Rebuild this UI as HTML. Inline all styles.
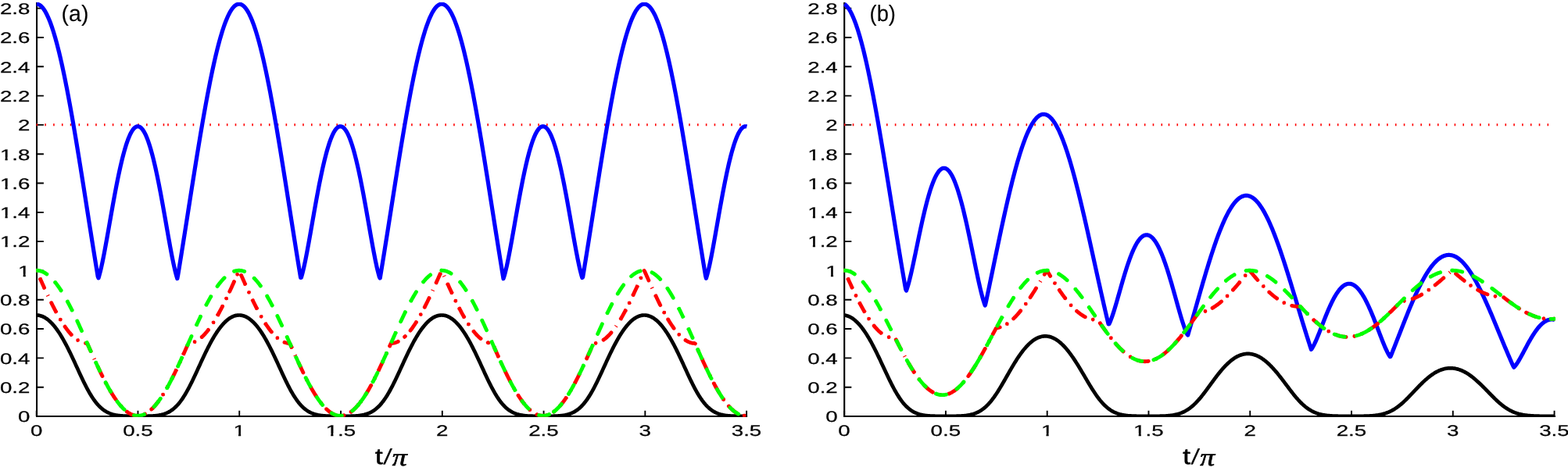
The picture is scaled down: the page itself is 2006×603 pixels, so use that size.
<!DOCTYPE html>
<html lang="en">
<head>
<meta charset="utf-8">
<title>Figure</title>
<style>
html,body{margin:0;padding:0;background:#fff;}
body{width:2006px;height:603px;overflow:hidden;}
svg{display:block;}
text{text-rendering:geometricPrecision;}
.tk{font-family:"Liberation Sans",sans-serif;font-size:19.7px;fill:#000;stroke:#000;stroke-width:0.25px;}
.lab{font-family:"Liberation Sans",sans-serif;font-size:28.9px;fill:#000;stroke:#000;stroke-width:0.12px;}
.xl{font-family:"Liberation Sans",sans-serif;font-size:28.6px;fill:#000;stroke:#000;stroke-width:0.6px;stroke-linejoin:round;}
.sl{font-family:"Liberation Sans",sans-serif;font-size:27.3px;fill:#000;stroke:#000;stroke-width:0.6px;}
.pi{font-family:"Liberation Serif","DejaVu Serif",serif;font-style:italic;font-size:32px;fill:#000;stroke:#000;stroke-width:0.6px;}
.c{fill:none;stroke-linejoin:round;stroke-linecap:butt;}
.r{fill:none;stroke-linejoin:round;stroke-linecap:round;}
</style>
</head>
<body>
<svg width="2006" height="603" viewBox="0 0 2006 603" role="img" aria-label="Two-panel line plot versus t/π">
<rect x="0" y="0" width="2006" height="603" fill="#fff"/>
<defs>
<clipPath id="cp0"><rect x="46.15" y="2.90" width="909.95" height="530.90"/></clipPath>
<clipPath id="cp1"><rect x="1079.30" y="2.90" width="910.70" height="530.90"/></clipPath>
<clipPath id="k1e"><path clip-rule="evenodd" d="M-15.95,-30H60V12H-15.95Z M-12.45,-3.35H-6.26V4H-12.45Z M-4.02,-3.35H0.00V4H-4.02Z"/></clipPath>
<clipPath id="k1xe"><path clip-rule="evenodd" d="M-32.38,-30H60V12H-32.38Z M-28.88,-3.35H-22.69V4H-28.88Z M-20.45,-3.35H-16.43V4H-20.45Z"/></clipPath>
<clipPath id="k1m"><path clip-rule="evenodd" d="M-10.48,-30H60V12H-10.48Z M-6.98,-3.35H-0.79V4H-6.98Z M1.46,-3.35H5.48V4H1.46Z"/></clipPath>
<clipPath id="k1xm"><path clip-rule="evenodd" d="M-18.69,-30H60V12H-18.69Z M-15.19,-3.35H-9.00V4H-15.19Z M-6.76,-3.35H-2.74V4H-6.76Z"/></clipPath>
</defs>
<g id="panel0">
<g stroke="#000" fill="none" stroke-linecap="butt">
<path stroke-width="2.1" d="M47.05,2.90V533.90"/>
<path stroke-width="1.9" d="M46.00,532.95H956.10"/>
</g>
<g stroke="#000" stroke-width="1.9" fill="none">
<path d="M46.70,533.00 h9.2 M46.70,495.69 h9.2 M46.70,458.38 h9.2 M46.70,421.07 h9.2 M46.70,383.76 h9.2 M46.70,346.45 h9.2 M46.70,309.14 h9.2 M46.70,271.83 h9.2 M46.70,234.52 h9.2 M46.70,197.21 h9.2 M46.70,159.90 h9.2 M46.70,122.59 h9.2 M46.70,85.28 h9.2 M46.70,47.97 h9.2 M46.70,10.66 h9.2 M46.70,532.80 v-7 M176.47,532.80 v-7 M306.24,532.80 v-7 M436.01,532.80 v-7 M565.79,532.80 v-7 M695.56,532.80 v-7 M825.33,532.80 v-7 M955.10,532.80 v-7"/>
</g>
<g class="tk">
<text text-anchor="end" transform="translate(38.45,540.30) scale(1.406,1)">0</text>
<text text-anchor="end" transform="translate(38.45,502.99) scale(1.406,1)">0.2</text>
<text text-anchor="end" transform="translate(38.45,465.68) scale(1.406,1)">0.4</text>
<text text-anchor="end" transform="translate(38.45,428.37) scale(1.406,1)">0.6</text>
<text text-anchor="end" transform="translate(38.45,391.06) scale(1.406,1)">0.8</text>
<text text-anchor="end" clip-path="url(#k1e)" transform="translate(38.45,353.75) scale(1.406,1)">1</text>
<text text-anchor="end" clip-path="url(#k1xe)" transform="translate(38.45,316.44) scale(1.406,1)">1.2</text>
<text text-anchor="end" clip-path="url(#k1xe)" transform="translate(38.45,279.13) scale(1.406,1)">1.4</text>
<text text-anchor="end" clip-path="url(#k1xe)" transform="translate(38.45,241.82) scale(1.406,1)">1.6</text>
<text text-anchor="end" clip-path="url(#k1xe)" transform="translate(38.45,204.51) scale(1.406,1)">1.8</text>
<text text-anchor="end" transform="translate(38.45,167.20) scale(1.406,1)">2</text>
<text text-anchor="end" transform="translate(38.45,129.89) scale(1.406,1)">2.2</text>
<text text-anchor="end" transform="translate(38.45,92.58) scale(1.406,1)">2.4</text>
<text text-anchor="end" transform="translate(38.45,55.27) scale(1.406,1)">2.6</text>
<text text-anchor="end" transform="translate(38.45,17.96) scale(1.406,1)">2.8</text>
<text text-anchor="middle" transform="translate(46.60,558.00) scale(1.406,1)">0</text>
<text text-anchor="middle" transform="translate(176.37,558.00) scale(1.406,1)">0.5</text>
<text text-anchor="middle" clip-path="url(#k1m)" transform="translate(306.14,558.00) scale(1.406,1)">1</text>
<text text-anchor="middle" clip-path="url(#k1xm)" transform="translate(435.91,558.00) scale(1.406,1)">1.5</text>
<text text-anchor="middle" transform="translate(565.69,558.00) scale(1.406,1)">2</text>
<text text-anchor="middle" transform="translate(695.46,558.00) scale(1.406,1)">2.5</text>
<text text-anchor="middle" transform="translate(825.23,558.00) scale(1.406,1)">3</text>
<text text-anchor="middle" transform="translate(955.00,558.00) scale(1.406,1)">3.5</text>
</g>
<g clip-path="url(#cp0)">
<path d="M46.5,159.7h1.6M57.31,159.7h1.6M68.12,159.7h1.6M78.93,159.7h1.6M89.74,159.7h1.6M100.55,159.7h1.6M111.36,159.7h1.6M122.17,159.7h1.6M132.98,159.7h1.6M143.79,159.7h1.6M154.6,159.7h1.6M165.41,159.7h1.6M176.22,159.7h1.6M187.03,159.7h1.6M197.84,159.7h1.6M208.65,159.7h1.6M214.21,159.7h1.6M225.02,159.7h1.6M235.83,159.7h1.6M246.64,159.7h1.6M257.45,159.7h1.6M268.26,159.7h1.6M279.07,159.7h1.6M289.88,159.7h1.6M300.69,159.7h1.6M311.5,159.7h1.6M322.31,159.7h1.6M333.12,159.7h1.6M343.93,159.7h1.6M354.74,159.7h1.6M365.55,159.7h1.6M376.36,159.7h1.6M387.17,159.7h1.6M397.98,159.7h1.6M408.79,159.7h1.6M419.6,159.7h1.6M430.41,159.7h1.6M441.22,159.7h1.6M452.03,159.7h1.6M461.23,159.7h1.6M472.04,159.7h1.6M482.85,159.7h1.6M493.66,159.7h1.6M504.47,159.7h1.6M515.28,159.7h1.6M526.09,159.7h1.6M536.9,159.7h1.6M547.71,159.7h1.6M558.52,159.7h1.6M569.33,159.7h1.6M580.14,159.7h1.6M590.95,159.7h1.6M601.76,159.7h1.6M612.57,159.7h1.6M623.38,159.7h1.6M634.19,159.7h1.6M645,159.7h1.6M655.81,159.7h1.6M666.62,159.7h1.6M677.43,159.7h1.6M688.24,159.7h1.6M699.05,159.7h1.6M708.25,159.7h1.6M719.06,159.7h1.6M729.87,159.7h1.6M740.68,159.7h1.6M751.49,159.7h1.6M762.3,159.7h1.6M773.11,159.7h1.6M783.92,159.7h1.6M794.73,159.7h1.6M805.54,159.7h1.6M816.35,159.7h1.6M827.16,159.7h1.6M837.97,159.7h1.6M848.78,159.7h1.6M859.59,159.7h1.6M870.4,159.7h1.6M881.21,159.7h1.6M892.02,159.7h1.6M902.83,159.7h1.6M913.64,159.7h1.6M924.45,159.7h1.6M935.26,159.7h1.6M946.07,159.7h1.6" stroke="#f00" stroke-width="3.1" fill="none"/>
<path class="c" stroke="#00f" stroke-width="5.2" d="M46.7,5.16L47.53,5.21L48.35,5.37L49.18,5.63L50,6L50.83,6.47L51.66,7.05L52.48,7.74L53.31,8.53L54.14,9.42L54.96,10.42L55.79,11.52L56.61,12.72L57.44,14.02L58.27,15.43L59.09,16.94L59.92,18.55L60.74,20.26L61.57,22.07L62.4,23.98L63.22,25.98L64.05,28.08L64.88,30.28L65.7,32.58L66.53,34.97L67.35,37.45L68.18,40.03L69.01,42.69L69.83,45.45L70.66,48.3L71.48,51.23L72.31,54.26L73.14,57.36L73.96,60.56L74.79,63.83L75.62,67.19L76.44,70.63L77.27,74.15L78.09,77.74L78.92,81.41L79.75,85.16L80.57,88.98L81.4,92.87L82.22,96.84L83.05,100.87L83.88,104.97L84.7,109.13L85.53,113.36L86.36,117.65L87.18,122L88.01,126.41L88.83,130.87L89.66,135.39L90.49,139.97L91.31,144.59L92.14,149.27L92.96,153.99L93.79,158.76L94.62,163.57L95.44,168.43L96.27,173.32L97.1,178.26L97.92,183.22L98.75,188.23L99.57,193.26L100.4,198.33L101.23,203.42L102.05,208.54L102.88,213.68L103.7,218.85L104.53,224.03L105.36,229.24L106.18,234.45L107.01,239.69L107.84,244.93L108.66,250.18L109.49,255.44L110.31,260.71L111.14,265.98L111.97,271.24L112.79,276.51L113.62,281.78L114.44,287.04L115.27,292.29L116.1,297.53L116.92,302.76L117.75,307.97L118.58,313.18L119.4,318.36L120.23,323.52L121.05,328.66L121.88,333.78L122.71,338.86L123.53,343.93L124.36,348.96L125.18,353.96L126.01,355.89L126.84,353.15L127.66,350.15L128.49,346.9L129.32,343.42L130.14,339.75L130.97,335.89L131.79,331.87L132.62,327.72L133.45,323.44L134.27,319.05L135.1,314.57L135.92,310.03L136.75,305.42L137.58,300.77L138.4,296.08L139.23,291.38L140.06,286.67L140.88,281.95L141.71,277.25L142.53,272.57L143.36,267.92L144.19,263.31L145.01,258.74L145.84,254.22L146.66,249.76L147.49,245.37L148.32,241.04L149.14,236.79L149.97,232.63L150.79,228.54L151.62,224.55L152.45,220.66L153.27,216.86L154.1,213.17L154.93,209.58L155.75,206.1L156.58,202.74L157.4,199.49L158.23,196.37L159.06,193.36L159.88,190.48L160.71,187.73L161.53,185.1L162.36,182.61L163.19,180.25L164.01,178.02L164.84,175.94L165.67,173.99L166.49,172.18L167.32,170.51L168.14,168.99L168.97,167.61L169.8,166.37L170.62,165.28L171.45,164.34L172.27,163.55L173.1,162.9L173.93,162.4L174.75,162.05L175.58,161.84L176.41,161.79L177.23,161.88L178.06,162.13L178.88,162.52L179.71,163.06L180.54,163.75L181.36,164.59L182.19,165.58L183.01,166.71L183.84,167.98L184.67,169.4L185.49,170.97L186.32,172.67L187.15,174.52L187.97,176.51L188.8,178.64L189.62,180.9L190.45,183.3L191.28,185.83L192.1,188.49L192.93,191.28L193.75,194.19L194.58,197.23L195.41,200.39L196.23,203.67L197.06,207.07L197.89,210.58L198.71,214.19L199.54,217.92L200.36,221.74L201.19,225.66L202.02,229.68L202.84,233.79L203.67,237.98L204.49,242.25L205.32,246.59L206.15,251.01L206.97,255.48L207.8,260.02L208.63,264.6L209.45,269.22L210.28,273.88L211.1,278.57L211.93,283.28L212.76,287.99L213.58,292.7L214.41,297.4L215.23,302.08L216.06,306.72L216.89,311.31L217.71,315.84L218.54,320.29L219.37,324.65L220.19,328.9L221.02,333.02L221.84,336.99L222.67,340.8L223.5,344.42L224.32,347.83L225.15,351.02L225.97,353.95L226.8,356.61L227.63,352.55L228.45,347.55L229.28,342.51L230.11,337.44L230.93,332.34L231.76,327.22L232.58,322.07L233.41,316.9L234.24,311.72L235.06,306.51L235.89,301.29L236.71,296.06L237.54,290.81L238.37,285.56L239.19,280.3L240.02,275.03L240.85,269.76L241.67,264.5L242.5,259.23L243.32,253.96L244.15,248.71L244.98,243.46L245.8,238.22L246.63,232.99L247.45,227.77L248.28,222.58L249.11,217.4L249.93,212.24L250.76,207.1L251.59,201.99L252.41,196.9L253.24,191.85L254.06,186.82L254.89,181.83L255.72,176.87L256.54,171.94L257.37,167.06L258.19,162.22L259.02,157.42L259.85,152.66L260.67,147.95L261.5,143.29L262.33,138.68L263.15,134.12L263.98,129.61L264.8,125.16L265.63,120.77L266.46,116.44L267.28,112.16L268.11,107.95L268.93,103.81L269.76,99.73L270.59,95.72L271.41,91.77L272.24,87.9L273.07,84.1L273.89,80.37L274.72,76.72L275.54,73.15L276.37,69.65L277.2,66.24L278.02,62.9L278.85,59.65L279.67,56.48L280.5,53.4L281.33,50.4L282.15,47.49L282.98,44.67L283.81,41.94L284.63,39.29L285.46,36.74L286.28,34.29L287.11,31.93L287.94,29.66L288.76,27.48L289.59,25.41L290.41,23.43L291.24,21.55L292.07,19.77L292.89,18.09L293.72,16.51L294.55,15.03L295.37,13.65L296.2,12.37L297.02,11.2L297.85,10.13L298.68,9.16L299.5,8.29L300.33,7.54L301.15,6.88L301.98,6.33L302.81,5.89L303.63,5.55L304.46,5.31L305.29,5.18L306.11,5.16L306.94,5.24L307.76,5.43L308.59,5.72L309.42,6.12L310.24,6.63L311.07,7.24L311.89,7.95L312.72,8.77L313.55,9.69L314.37,10.71L315.2,11.84L316.03,13.07L316.85,14.41L317.68,15.84L318.5,17.38L319.33,19.02L320.16,20.76L320.98,22.59L321.81,24.53L322.63,26.56L323.46,28.69L324.29,30.92L325.11,33.24L325.94,35.66L326.77,38.17L327.59,40.77L328.42,43.46L329.24,46.24L330.07,49.11L330.9,52.07L331.72,55.12L332.55,58.25L333.37,61.47L334.2,64.77L335.03,68.15L335.85,71.61L336.68,75.15L337.51,78.76L338.33,82.46L339.16,86.23L339.98,90.07L340.81,93.98L341.64,97.96L342.46,102.01L343.29,106.13L344.11,110.31L344.94,114.56L345.77,118.86L346.59,123.23L347.42,127.65L348.24,132.14L349.07,136.67L349.9,141.26L350.72,145.9L351.55,150.59L352.38,155.33L353.2,160.11L354.03,164.93L354.85,169.8L355.68,174.7L356.51,179.65L357.33,184.63L358.16,189.64L358.98,194.68L359.81,199.76L360.64,204.86L361.46,209.98L362.29,215.13L363.12,220.3L363.94,225.49L364.77,230.7L365.59,235.92L366.42,241.16L367.25,246.4L368.07,251.66L368.9,256.92L369.72,262.19L370.55,267.46L371.38,272.72L372.2,277.99L373.03,283.25L373.86,288.51L374.68,293.76L375.51,299L376.33,304.23L377.16,309.44L377.99,314.63L378.81,319.81L379.64,324.97L380.46,330.1L381.29,335.21L382.12,340.29L382.94,345.34L383.77,350.36L384.6,355.35L385.42,355.15L386.25,352.34L387.07,349.26L387.9,345.94L388.73,342.41L389.55,338.68L390.38,334.78L391.2,330.72L392.03,326.53L392.86,322.21L393.68,317.8L394.51,313.3L395.34,308.74L396.16,304.12L396.99,299.45L397.81,294.76L398.64,290.06L399.47,285.34L400.29,280.63L401.12,275.94L401.94,271.26L402.77,266.62L403.6,262.02L404.42,257.46L405.25,252.96L406.08,248.52L406.9,244.14L407.73,239.84L408.55,235.61L409.38,231.47L410.21,227.41L411.03,223.45L411.86,219.58L412.68,215.81L413.51,212.15L414.34,208.59L415.16,205.15L415.99,201.82L416.82,198.6L417.64,195.51L418.47,192.54L419.29,189.69L420.12,186.98L420.95,184.39L421.77,181.93L422.6,179.61L423.42,177.42L424.25,175.38L425.08,173.47L425.9,171.7L426.73,170.07L427.56,168.59L428.38,167.25L429.21,166.05L430.03,165L430.86,164.1L431.69,163.35L432.51,162.74L433.34,162.28L434.16,161.97L434.99,161.81L435.82,161.8L436.64,161.94L437.47,162.22L438.3,162.66L439.12,163.24L439.95,163.97L440.77,164.85L441.6,165.88L442.43,167.05L443.25,168.37L444.08,169.83L444.9,171.43L445.73,173.18L446.56,175.07L447.38,177.09L448.21,179.26L449.04,181.56L449.86,183.99L450.69,186.56L451.51,189.26L452.34,192.08L453.17,195.03L453.99,198.11L454.82,201.3L455.64,204.62L456.47,208.04L457.3,211.58L458.12,215.23L458.95,218.98L459.78,222.83L460.6,226.78L461.43,230.83L462.25,234.96L463.08,239.17L463.91,243.46L464.73,247.83L465.56,252.26L466.38,256.75L467.21,261.3L468.04,265.89L468.86,270.53L469.69,275.2L470.52,279.89L471.34,284.6L472.17,289.31L472.99,294.02L473.82,298.72L474.65,303.39L475.47,308.01L476.3,312.59L477.12,317.1L477.95,321.53L478.78,325.85L479.6,330.07L480.43,334.15L481.26,338.08L482.08,341.84L482.91,345.4L483.73,348.75L484.56,351.87L485.39,354.73L486.21,356.13L487.04,351.15L487.86,346.13L488.69,341.09L489.52,336.01L490.34,330.9L491.17,325.78L492,320.62L492.82,315.45L493.65,310.26L494.47,305.05L495.3,299.82L496.13,294.59L496.95,289.34L497.78,284.08L498.6,278.82L499.43,273.55L500.26,268.28L501.08,263.02L501.91,257.75L502.74,252.49L503.56,247.23L504.39,241.98L505.21,236.75L506.04,231.52L506.87,226.31L507.69,221.12L508.52,215.94L509.34,210.79L510.17,205.66L511,200.56L511.82,195.48L512.65,190.43L513.48,185.41L514.3,180.43L515.13,175.48L515.95,170.57L516.78,165.7L517.61,160.86L518.43,156.08L519.26,151.33L520.08,146.64L520.91,141.99L521.74,137.39L522.56,132.85L523.39,128.36L524.22,123.92L525.04,119.55L525.87,115.23L526.69,110.97L527.52,106.78L528.35,102.65L529.17,98.59L530,94.6L530.82,90.68L531.65,86.83L532.48,83.05L533.3,79.34L534.13,75.71L534.95,72.16L535.78,68.69L536.61,65.29L537.43,61.98L538.26,58.75L539.09,55.61L539.91,52.55L540.74,49.57L541.56,46.69L542.39,43.89L543.22,41.18L544.04,38.57L544.87,36.05L545.69,33.61L546.52,31.28L547.35,29.04L548.17,26.89L549,24.84L549.83,22.89L550.65,21.04L551.48,19.29L552.3,17.63L553.13,16.08L553.96,14.63L554.78,13.28L555.61,12.03L556.43,10.89L557.26,9.84L558.09,8.91L558.91,8.07L559.74,7.34L560.57,6.72L561.39,6.2L562.22,5.78L563.04,5.47L563.87,5.27L564.7,5.17L565.52,5.17L566.35,5.29L567.17,5.5L568,5.83L568.83,6.25L569.65,6.79L570.48,7.43L571.31,8.17L572.13,9.02L572.96,9.97L573.78,11.02L574.61,12.18L575.44,13.44L576.26,14.8L577.09,16.27L577.91,17.83L578.74,19.5L579.57,21.26L580.39,23.13L581.22,25.09L582.05,27.15L582.87,29.31L583.7,31.56L584.52,33.91L585.35,36.35L586.18,38.89L587,41.51L587.83,44.23L588.65,47.04L589.48,49.94L590.31,52.92L591.13,55.99L591.96,59.15L592.79,62.39L593.61,65.71L594.44,69.11L595.26,72.59L596.09,76.16L596.92,79.79L597.74,83.51L598.57,87.3L599.39,91.16L600.22,95.09L601.05,99.09L601.87,103.16L602.7,107.3L603.53,111.5L604.35,115.76L605.18,120.08L606,124.47L606.83,128.91L607.66,133.41L608.48,137.96L609.31,142.56L610.13,147.21L610.96,151.92L611.79,156.66L612.61,161.46L613.44,166.3L614.27,171.17L615.09,176.09L615.92,181.04L616.74,186.03L617.57,191.05L618.4,196.1L619.22,201.19L620.05,206.29L620.87,211.43L621.7,216.58L622.53,221.76L623.35,226.95L624.18,232.17L625.01,237.39L625.83,242.63L626.66,247.88L627.48,253.14L628.31,258.4L629.14,263.67L629.96,268.93L630.79,274.2L631.61,279.47L632.44,284.73L633.27,289.99L634.09,295.23L634.92,300.47L635.75,305.69L636.57,310.9L637.4,316.09L638.22,321.26L639.05,326.41L639.88,331.54L640.7,336.64L641.53,341.71L642.35,346.76L643.18,351.77L644.01,356.75L644.83,354.39L645.66,351.5L646.49,348.35L647.31,344.97L648.14,341.38L648.96,337.6L649.79,333.65L650.62,329.56L651.44,325.33L652.27,320.98L653.09,316.55L653.92,312.03L654.75,307.44L655.57,302.81L656.4,298.14L657.23,293.44L658.05,288.73L658.88,284.02L659.7,279.31L660.53,274.62L661.36,269.96L662.18,265.32L663.01,260.73L663.83,256.19L664.66,251.71L665.49,247.28L666.31,242.93L667.14,238.65L667.97,234.44L668.79,230.32L669.62,226.29L670.44,222.35L671.27,218.51L672.1,214.77L672.92,211.14L673.75,207.61L674.57,204.2L675.4,200.9L676.23,197.72L677.05,194.66L677.88,191.73L678.71,188.92L679.53,186.24L680.36,183.68L681.18,181.27L682.01,178.98L682.84,176.84L683.66,174.83L684.49,172.96L685.31,171.23L686.14,169.64L686.97,168.2L687.79,166.9L688.62,165.74L689.45,164.74L690.27,163.88L691.1,163.16L691.92,162.6L692.75,162.18L693.58,161.91L694.4,161.79L695.23,161.82L696.05,162L696.88,162.33L697.71,162.81L698.53,163.43L699.36,164.21L700.19,165.13L701.01,166.19L701.84,167.41L702.66,168.76L703.49,170.26L704.32,171.91L705.14,173.7L705.97,175.62L706.79,177.69L707.62,179.89L708.45,182.23L709.27,184.7L710.1,187.3L710.93,190.04L711.75,192.9L712.58,195.88L713.4,198.99L714.23,202.22L715.06,205.57L715.88,209.03L716.71,212.6L717.53,216.27L718.36,220.05L719.19,223.93L720.01,227.91L720.84,231.98L721.67,236.13L722.49,240.37L723.32,244.68L724.14,249.06L724.97,253.51L725.8,258.02L726.62,262.59L727.45,267.19L728.27,271.84L729.1,276.51L729.93,281.21L730.75,285.92L731.58,290.64L732.4,295.34L733.23,300.03L734.06,304.69L734.88,309.3L735.71,313.86L736.54,318.35L737.36,322.75L738.19,327.05L739.01,331.23L739.84,335.27L740.67,339.15L741.49,342.86L742.32,346.36L743.14,349.65L743.97,352.7L744.8,355.48L745.62,354.74L746.45,349.75L747.28,344.72L748.1,339.66L748.93,334.58L749.75,329.47L750.58,324.33L751.41,319.17L752.23,313.99L753.06,308.79L753.88,303.58L754.71,298.35L755.54,293.11L756.36,287.86L757.19,282.6L758.02,277.34L758.84,272.07L759.67,266.8L760.49,261.54L761.32,256.27L762.15,251.01L762.97,245.76L763.8,240.51L764.62,235.28L765.45,230.06L766.28,224.85L767.1,219.66L767.93,214.5L768.76,209.35L769.58,204.23L770.41,199.13L771.23,194.06L772.06,189.02L772.89,184.01L773.71,179.04L774.54,174.1L775.36,169.2L776.19,164.33L777.02,159.51L777.84,154.74L778.67,150.01L779.5,145.33L780.32,140.69L781.15,136.11L781.97,131.58L782.8,127.11L783.63,122.69L784.45,118.33L785.28,114.03L786.1,109.79L786.93,105.62L787.76,101.51L788.58,97.47L789.41,93.49L790.24,89.59L791.06,85.76L791.89,82L792.71,78.31L793.54,74.71L794.37,71.18L795.19,67.73L796.02,64.35L796.84,61.07L797.67,57.86L798.5,54.74L799.32,51.7L800.15,48.75L800.98,45.89L801.8,43.12L802.63,40.44L803.45,37.85L804.28,35.35L805.11,32.95L805.93,30.64L806.76,28.42L807.58,26.31L808.41,24.29L809.24,22.36L810.06,20.54L810.89,18.81L811.72,17.19L812.54,15.66L813.37,14.24L814.19,12.92L815.02,11.7L815.85,10.58L816.67,9.57L817.5,8.66L818.32,7.86L819.15,7.15L819.98,6.56L820.8,6.07L821.63,5.68L822.46,5.4L823.28,5.23L824.11,5.16L824.93,5.19L825.76,5.34L826.59,5.58L827.41,5.94L828.24,6.39L829.06,6.96L829.89,7.62L830.72,8.4L831.54,9.27L832.37,10.25L833.2,11.34L834.02,12.52L834.85,13.81L835.67,15.2L836.5,16.7L837.33,18.29L838.15,19.98L838.98,21.78L839.8,23.67L840.63,25.66L841.46,27.75L842.28,29.93L843.11,32.21L843.94,34.59L844.76,37.05L845.59,39.62L846.41,42.27L847.24,45.01L848.07,47.84L848.89,50.77L849.72,53.77L850.54,56.87L851.37,60.05L852.2,63.31L853.02,66.66L853.85,70.08L854.68,73.59L855.5,77.17L856.33,80.83L857.15,84.57L857.98,88.37L858.81,92.26L859.63,96.21L860.46,100.23L861.28,104.32L862.11,108.47L862.94,112.69L863.76,116.97L864.59,121.31L865.42,125.71L866.24,130.17L867.07,134.68L867.89,139.24L868.72,143.86L869.55,148.53L870.37,153.24L871.2,158.01L872.02,162.81L872.85,167.66L873.68,172.55L874.5,177.48L875.33,182.44L876.16,187.44L876.98,192.47L877.81,197.53L878.63,202.62L879.46,207.73L880.29,212.87L881.11,218.03L881.94,223.22L882.76,228.42L883.59,233.63L884.42,238.86L885.24,244.1L886.07,249.35L886.9,254.61L887.72,259.88L888.55,265.15L889.37,270.41L890.2,275.68L891.03,280.95L891.85,286.21L892.68,291.46L893.5,296.7L894.33,301.94L895.16,307.15L895.98,312.36L896.81,317.54L897.64,322.71L898.46,327.85L899.29,332.97L900.11,338.07L900.94,343.13L901.77,348.17L902.59,353.17L903.42,356.3L904.24,353.6L905.07,350.64L905.9,347.42L906.72,343.98L907.55,340.34L908.38,336.51L909.2,332.52L910.03,328.38L910.85,324.12L911.68,319.75L912.51,315.28L913.33,310.75L914.16,306.15L914.98,301.5L915.81,296.82L916.64,292.12L917.46,287.41L918.29,282.69L919.12,277.99L919.94,273.31L920.77,268.65L921.59,264.03L922.42,259.45L923.25,254.93L924.07,250.46L924.9,246.05L925.72,241.72L926.55,237.46L927.38,233.28L928.2,229.18L929.03,225.18L929.85,221.26L930.68,217.45L931.51,213.74L932.33,210.14L933.16,206.64L933.99,203.26L934.81,200L935.64,196.85L936.46,193.83L937.29,190.92L938.12,188.15L938.94,185.51L939.77,182.99L940.59,180.61L941.42,178.37L942.25,176.26L943.07,174.29L943.9,172.46L944.73,170.77L945.55,169.22L946.38,167.82L947.2,166.56L948.03,165.45L948.86,164.48L949.68,163.66L950.51,162.99L951.33,162.47L952.16,162.09L952.99,161.86L953.81,161.79L954.64,161.86L955.47,162.08"/>
<path class="c" stroke="#000" stroke-width="4.7" d="M46.7,403.49L47.53,403.51L48.35,403.57L49.18,403.66L50,403.79L50.83,403.96L51.66,404.16L52.48,404.41L53.31,404.69L54.14,405L54.96,405.36L55.79,405.75L56.61,406.18L57.44,406.64L58.27,407.14L59.09,407.68L59.92,408.26L60.74,408.87L61.57,409.52L62.4,410.2L63.22,410.93L64.05,411.68L64.88,412.48L65.7,413.31L66.53,414.18L67.35,415.08L68.18,416.01L69.01,416.99L69.83,417.99L70.66,419.04L71.48,420.11L72.31,421.22L73.14,422.37L73.96,423.55L74.79,424.76L75.62,426L76.44,427.28L77.27,428.59L78.09,429.93L78.92,431.3L79.75,432.7L80.57,434.13L81.4,435.58L82.22,437.07L83.05,438.58L83.88,440.12L84.7,441.69L85.53,443.28L86.36,444.89L87.18,446.52L88.01,448.18L88.83,449.86L89.66,451.55L90.49,453.27L91.31,455L92.14,456.74L92.96,458.5L93.79,460.27L94.62,462.05L95.44,463.83L96.27,465.63L97.1,467.43L97.92,469.23L98.75,471.03L99.57,472.83L100.4,474.63L101.23,476.42L102.05,478.21L102.88,479.98L103.7,481.75L104.53,483.5L105.36,485.24L106.18,486.96L107.01,488.66L107.84,490.34L108.66,491.99L109.49,493.62L110.31,495.23L111.14,496.8L111.97,498.35L112.79,499.86L113.62,501.34L114.44,502.79L115.27,504.2L116.1,505.57L116.92,506.91L117.75,508.21L118.58,509.47L119.4,510.69L120.23,511.88L121.05,513.02L121.88,514.12L122.71,515.18L123.53,516.2L124.36,517.18L125.18,518.13L126.01,519.03L126.84,519.89L127.66,520.72L128.49,521.51L129.32,522.26L130.14,522.97L130.97,523.65L131.79,524.3L132.62,524.91L133.45,525.49L134.27,526.03L135.1,526.55L135.92,527.03L136.75,527.49L137.58,527.92L138.4,528.33L139.23,528.7L140.06,529.06L140.88,529.39L141.71,529.69L142.53,529.98L143.36,530.25L144.19,530.49L145.01,530.72L145.84,530.93L146.66,531.12L147.49,531.3L148.32,531.46L149.14,531.61L149.97,531.75L150.79,531.87L151.62,531.99L152.45,532.09L153.27,532.18L154.1,532.26L154.93,532.34L155.75,532.4L156.58,532.46L157.4,532.51L158.23,532.56L159.06,532.6L159.88,532.63L160.71,532.66L161.53,532.69L162.36,532.71L163.19,532.73L164.01,532.74L164.84,532.75L165.67,532.76L166.49,532.77L167.32,532.78L168.14,532.79L168.97,532.79L169.8,532.79L170.62,532.79L171.45,532.8L172.27,532.8L173.1,532.8L173.93,532.8L174.75,532.8L175.58,532.8L176.41,532.8L177.23,532.8L178.06,532.8L178.88,532.8L179.71,532.8L180.54,532.8L181.36,532.8L182.19,532.79L183.01,532.79L183.84,532.79L184.67,532.78L185.49,532.78L186.32,532.77L187.15,532.76L187.97,532.75L188.8,532.74L189.62,532.72L190.45,532.7L191.28,532.68L192.1,532.65L192.93,532.62L193.75,532.59L194.58,532.54L195.41,532.5L196.23,532.44L197.06,532.38L197.89,532.32L198.71,532.24L199.54,532.15L200.36,532.06L201.19,531.96L202.02,531.84L202.84,531.71L203.67,531.57L204.49,531.42L205.32,531.25L206.15,531.07L206.97,530.87L207.8,530.66L208.63,530.42L209.45,530.17L210.28,529.9L211.1,529.61L211.93,529.3L212.76,528.96L213.58,528.6L214.41,528.21L215.23,527.8L216.06,527.37L216.89,526.9L217.71,526.41L218.54,525.88L219.37,525.33L220.19,524.74L221.02,524.12L221.84,523.46L222.67,522.77L223.5,522.05L224.32,521.29L225.15,520.49L225.97,519.65L226.8,518.78L227.63,517.87L228.45,516.91L229.28,515.92L230.11,514.89L230.93,513.81L231.76,512.7L232.58,511.55L233.41,510.36L234.24,509.12L235.06,507.85L235.89,506.54L236.71,505.19L237.54,503.81L238.37,502.39L239.19,500.93L240.02,499.44L240.85,497.92L241.67,496.36L242.5,494.78L243.32,493.17L244.15,491.53L244.98,489.87L245.8,488.18L246.63,486.48L247.45,484.75L248.28,483.01L249.11,481.25L249.93,479.49L250.76,477.71L251.59,475.92L252.41,474.12L253.24,472.32L254.06,470.52L254.89,468.72L255.72,466.92L256.54,465.12L257.37,463.33L258.19,461.55L259.02,459.77L259.85,458L260.67,456.25L261.5,454.51L262.33,452.78L263.15,451.08L263.98,449.39L264.8,447.71L265.63,446.06L266.46,444.43L267.28,442.83L268.11,441.24L268.93,439.69L269.76,438.15L270.59,436.65L271.41,435.17L272.24,433.72L273.07,432.3L273.89,430.91L274.72,429.55L275.54,428.22L276.37,426.92L277.2,425.65L278.02,424.42L278.85,423.21L279.67,422.04L280.5,420.91L281.33,419.81L282.15,418.74L282.98,417.71L283.81,416.71L284.63,415.75L285.46,414.82L286.28,413.93L287.11,413.07L287.94,412.25L288.76,411.47L289.59,410.72L290.41,410.01L291.24,409.33L292.07,408.69L292.89,408.09L293.72,407.53L294.55,407L295.37,406.51L296.2,406.05L297.02,405.63L297.85,405.25L298.68,404.91L299.5,404.6L300.33,404.34L301.15,404.1L301.98,403.91L302.81,403.75L303.63,403.63L304.46,403.55L305.29,403.5L306.11,403.49L306.94,403.52L307.76,403.59L308.59,403.69L309.42,403.84L310.24,404.01L311.07,404.23L311.89,404.48L312.72,404.77L313.55,405.1L314.37,405.46L315.2,405.86L316.03,406.3L316.85,406.78L317.68,407.29L318.5,407.84L319.33,408.43L320.16,409.05L320.98,409.71L321.81,410.4L322.63,411.14L323.46,411.9L324.29,412.71L325.11,413.55L325.94,414.43L326.77,415.34L327.59,416.28L328.42,417.27L329.24,418.28L330.07,419.34L330.9,420.42L331.72,421.54L332.55,422.7L333.37,423.88L334.2,425.11L335.03,426.36L335.85,427.64L336.68,428.96L337.51,430.31L338.33,431.69L339.16,433.09L339.98,434.53L340.81,436L341.64,437.49L342.46,439.01L343.29,440.56L344.11,442.13L344.94,443.73L345.77,445.35L346.59,446.99L347.42,448.65L348.24,450.33L349.07,452.03L349.9,453.75L350.72,455.49L351.55,457.23L352.38,458.99L353.2,460.77L354.03,462.55L354.85,464.34L355.68,466.13L356.51,467.93L357.33,469.73L358.16,471.54L358.98,473.34L359.81,475.13L360.64,476.92L361.46,478.71L362.29,480.48L363.12,482.24L363.94,483.99L364.77,485.72L365.59,487.44L366.42,489.13L367.25,490.8L368.07,492.45L368.9,494.08L369.72,495.67L370.55,497.24L371.38,498.78L372.2,500.28L373.03,501.75L373.86,503.19L374.68,504.59L375.51,505.95L376.33,507.28L377.16,508.57L377.99,509.82L378.81,511.03L379.64,512.2L380.46,513.33L381.29,514.42L382.12,515.47L382.94,516.48L383.77,517.45L384.6,518.38L385.42,519.28L386.25,520.13L387.07,520.94L387.9,521.72L388.73,522.46L389.55,523.17L390.38,523.84L391.2,524.47L392.03,525.07L392.86,525.64L393.68,526.18L394.51,526.69L395.34,527.17L396.16,527.62L396.99,528.04L397.81,528.43L398.64,528.8L399.47,529.15L400.29,529.47L401.12,529.78L401.94,530.06L402.77,530.32L403.6,530.56L404.42,530.78L405.25,530.99L406.08,531.17L406.9,531.35L407.73,531.51L408.55,531.65L409.38,531.79L410.21,531.91L411.03,532.02L411.86,532.11L412.68,532.2L413.51,532.28L414.34,532.35L415.16,532.42L415.99,532.47L416.82,532.52L417.64,532.57L418.47,532.61L419.29,532.64L420.12,532.67L420.95,532.69L421.77,532.71L422.6,532.73L423.42,532.75L424.25,532.76L425.08,532.77L425.9,532.78L426.73,532.78L427.56,532.79L428.38,532.79L429.21,532.79L430.03,532.8L430.86,532.8L431.69,532.8L432.51,532.8L433.34,532.8L434.16,532.8L434.99,532.8L435.82,532.8L436.64,532.8L437.47,532.8L438.3,532.8L439.12,532.8L439.95,532.8L440.77,532.8L441.6,532.79L442.43,532.79L443.25,532.79L444.08,532.78L444.9,532.78L445.73,532.77L446.56,532.76L447.38,532.75L448.21,532.73L449.04,532.72L449.86,532.7L450.69,532.67L451.51,532.64L452.34,532.61L453.17,532.57L453.99,532.53L454.82,532.48L455.64,532.43L456.47,532.37L457.3,532.3L458.12,532.22L458.95,532.13L459.78,532.03L460.6,531.92L461.43,531.81L462.25,531.67L463.08,531.53L463.91,531.37L464.73,531.2L465.56,531.02L466.38,530.81L467.21,530.59L468.04,530.36L468.86,530.1L469.69,529.82L470.52,529.52L471.34,529.2L472.17,528.86L472.99,528.49L473.82,528.1L474.65,527.68L475.47,527.24L476.3,526.76L477.12,526.26L477.95,525.73L478.78,525.16L479.6,524.57L480.43,523.94L481.26,523.27L482.08,522.57L482.91,521.84L483.73,521.07L484.56,520.26L485.39,519.41L486.21,518.53L487.04,517.6L487.86,516.64L488.69,515.63L489.52,514.59L490.34,513.51L491.17,512.38L492,511.22L492.82,510.01L493.65,508.77L494.47,507.49L495.3,506.17L496.13,504.81L496.95,503.41L497.78,501.98L498.6,500.51L499.43,499.01L500.26,497.48L501.08,495.92L501.91,494.33L502.74,492.71L503.56,491.06L504.39,489.4L505.21,487.7L506.04,485.99L506.87,484.26L507.69,482.52L508.52,480.76L509.34,478.99L510.17,477.2L511,475.41L511.82,473.62L512.65,471.82L513.48,470.02L514.3,468.22L515.13,466.42L515.95,464.62L516.78,462.83L517.61,461.05L518.43,459.27L519.26,457.51L520.08,455.76L520.91,454.02L521.74,452.3L522.56,450.6L523.39,448.91L524.22,447.25L525.04,445.6L525.87,443.98L526.69,442.38L527.52,440.8L528.35,439.25L529.17,437.73L530,436.23L530.82,434.76L531.65,433.32L532.48,431.91L533.3,430.52L534.13,429.17L534.95,427.85L535.78,426.56L536.61,425.3L537.43,424.07L538.26,422.88L539.09,421.72L539.91,420.6L540.74,419.5L541.56,418.45L542.39,417.42L543.22,416.44L544.04,415.48L544.87,414.57L545.69,413.68L546.52,412.84L547.35,412.03L548.17,411.25L549,410.52L549.83,409.82L550.65,409.15L551.48,408.52L552.3,407.93L553.13,407.37L553.96,406.86L554.78,406.38L555.61,405.93L556.43,405.52L557.26,405.15L558.09,404.82L558.91,404.53L559.74,404.27L560.57,404.04L561.39,403.86L562.22,403.71L563.04,403.6L563.87,403.53L564.7,403.5L565.52,403.5L566.35,403.54L567.17,403.62L568,403.73L568.83,403.88L569.65,404.07L570.48,404.3L571.31,404.56L572.13,404.86L572.96,405.2L573.78,405.57L574.61,405.98L575.44,406.43L576.26,406.92L577.09,407.44L577.91,408L578.74,408.6L579.57,409.23L580.39,409.9L581.22,410.61L582.05,411.35L582.87,412.13L583.7,412.94L584.52,413.79L585.35,414.68L586.18,415.6L587,416.56L587.83,417.55L588.65,418.58L589.48,419.64L590.31,420.73L591.13,421.86L591.96,423.03L592.79,424.22L593.61,425.45L594.44,426.72L595.26,428.01L596.09,429.34L596.92,430.69L597.74,432.08L598.57,433.5L599.39,434.94L600.22,436.41L601.05,437.92L601.87,439.44L602.7,441L603.53,442.58L604.35,444.18L605.18,445.81L606,447.45L606.83,449.12L607.66,450.81L608.48,452.51L609.31,454.24L610.13,455.98L610.96,457.73L611.79,459.49L612.61,461.27L613.44,463.05L614.27,464.84L615.09,466.64L615.92,468.44L616.74,470.24L617.57,472.04L618.4,473.84L619.22,475.64L620.05,477.43L620.87,479.21L621.7,480.98L622.53,482.74L623.35,484.48L624.18,486.21L625.01,487.91L625.83,489.6L626.66,491.27L627.48,492.91L628.31,494.53L629.14,496.11L629.96,497.67L630.79,499.2L631.61,500.7L632.44,502.16L633.27,503.59L634.09,504.98L634.92,506.33L635.75,507.65L636.57,508.93L637.4,510.16L638.22,511.36L639.05,512.52L639.88,513.64L640.7,514.72L641.53,515.76L642.35,516.76L643.18,517.72L644.01,518.64L644.83,519.52L645.66,520.36L646.49,521.17L647.31,521.93L648.14,522.66L648.96,523.36L649.79,524.02L650.62,524.64L651.44,525.24L652.27,525.8L653.09,526.33L653.92,526.82L654.75,527.29L655.57,527.74L656.4,528.15L657.23,528.54L658.05,528.9L658.88,529.24L659.7,529.56L660.53,529.86L661.36,530.13L662.18,530.39L663.01,530.62L663.83,530.84L664.66,531.04L665.49,531.23L666.31,531.39L667.14,531.55L667.97,531.69L668.79,531.82L669.62,531.94L670.44,532.04L671.27,532.14L672.1,532.23L672.92,532.3L673.75,532.37L674.57,532.44L675.4,532.49L676.23,532.54L677.05,532.58L677.88,532.62L678.71,532.65L679.53,532.68L680.36,532.7L681.18,532.72L682.01,532.74L682.84,532.75L683.66,532.76L684.49,532.77L685.31,532.78L686.14,532.78L686.97,532.79L687.79,532.79L688.62,532.79L689.45,532.8L690.27,532.8L691.1,532.8L691.92,532.8L692.75,532.8L693.58,532.8L694.4,532.8L695.23,532.8L696.05,532.8L696.88,532.8L697.71,532.8L698.53,532.8L699.36,532.8L700.19,532.8L701.01,532.79L701.84,532.79L702.66,532.79L703.49,532.78L704.32,532.77L705.14,532.77L705.97,532.76L706.79,532.74L707.62,532.73L708.45,532.71L709.27,532.69L710.1,532.66L710.93,532.64L711.75,532.6L712.58,532.56L713.4,532.52L714.23,532.47L715.06,532.41L715.88,532.35L716.71,532.27L717.53,532.19L718.36,532.1L719.19,532L720.01,531.89L720.84,531.77L721.67,531.64L722.49,531.49L723.32,531.33L724.14,531.15L724.97,530.96L725.8,530.75L726.62,530.53L727.45,530.29L728.27,530.02L729.1,529.74L729.93,529.44L730.75,529.11L731.58,528.76L732.4,528.39L733.23,527.99L734.06,527.56L734.88,527.11L735.71,526.63L736.54,526.12L737.36,525.57L738.19,525L739.01,524.39L739.84,523.75L740.67,523.08L741.49,522.37L742.32,521.63L743.14,520.84L743.97,520.03L744.8,519.17L745.62,518.27L746.45,517.34L747.28,516.36L748.1,515.35L748.93,514.29L749.75,513.19L750.58,512.06L751.41,510.88L752.23,509.67L753.06,508.41L753.88,507.12L754.71,505.79L755.54,504.42L756.36,503.01L757.19,501.57L758.02,500.1L758.84,498.59L759.67,497.05L760.49,495.48L761.32,493.88L762.15,492.25L762.97,490.6L763.8,488.92L764.62,487.23L765.45,485.51L766.28,483.78L767.1,482.03L767.93,480.26L768.76,478.49L769.58,476.7L770.41,474.91L771.23,473.11L772.06,471.31L772.89,469.51L773.71,467.71L774.54,465.91L775.36,464.12L776.19,462.33L777.02,460.55L777.84,458.78L778.67,457.02L779.5,455.27L780.32,453.54L781.15,451.82L781.97,450.12L782.8,448.44L783.63,446.78L784.45,445.15L785.28,443.53L786.1,441.94L786.93,440.37L787.76,438.82L788.58,437.31L789.41,435.82L790.24,434.35L791.06,432.92L791.89,431.51L792.71,430.14L793.54,428.8L794.37,427.48L795.19,426.2L796.02,424.95L796.84,423.74L797.67,422.55L798.5,421.4L799.32,420.29L800.15,419.2L800.98,418.16L801.8,417.14L802.63,416.17L803.45,415.22L804.28,414.32L805.11,413.44L805.93,412.61L806.76,411.81L807.58,411.04L808.41,410.32L809.24,409.62L810.06,408.97L810.89,408.35L811.72,407.77L812.54,407.23L813.37,406.72L814.19,406.25L815.02,405.81L815.85,405.42L816.67,405.06L817.5,404.73L818.32,404.45L819.15,404.2L819.98,403.99L820.8,403.82L821.63,403.68L822.46,403.58L823.28,403.52L824.11,403.49L824.93,403.51L825.76,403.56L826.59,403.64L827.41,403.77L828.24,403.93L829.06,404.13L829.89,404.37L830.72,404.64L831.54,404.95L832.37,405.3L833.2,405.68L834.02,406.11L834.85,406.57L835.67,407.06L836.5,407.59L837.33,408.16L838.15,408.77L838.98,409.41L839.8,410.09L840.63,410.81L841.46,411.56L842.28,412.35L843.11,413.18L843.94,414.04L844.76,414.93L845.59,415.87L846.41,416.83L847.24,417.83L848.07,418.87L848.89,419.94L849.72,421.05L850.54,422.19L851.37,423.36L852.2,424.57L853.02,425.8L853.85,427.08L854.68,428.38L855.5,429.71L856.33,431.08L857.15,432.47L857.98,433.9L858.81,435.35L859.63,436.83L860.46,438.34L861.28,439.88L862.11,441.44L862.94,443.02L863.76,444.63L864.59,446.27L865.42,447.92L866.24,449.59L867.07,451.29L867.89,453L868.72,454.72L869.55,456.47L870.37,458.22L871.2,459.99L872.02,461.77L872.85,463.55L873.68,465.34L874.5,467.14L875.33,468.94L876.16,470.75L876.98,472.55L877.81,474.35L878.63,476.14L879.46,477.93L880.29,479.7L881.11,481.47L881.94,483.23L882.76,484.97L883.59,486.69L884.42,488.39L885.24,490.07L886.07,491.73L886.9,493.37L887.72,494.98L888.55,496.56L889.37,498.11L890.2,499.62L891.03,501.11L891.85,502.56L892.68,503.98L893.5,505.36L894.33,506.7L895.16,508.01L895.98,509.28L896.81,510.51L897.64,511.69L898.46,512.84L899.29,513.95L900.11,515.02L900.94,516.05L901.77,517.03L902.59,517.98L903.42,518.89L904.24,519.76L905.07,520.59L905.9,521.38L906.72,522.14L907.55,522.86L908.38,523.55L909.2,524.2L910.03,524.81L910.85,525.4L911.68,525.95L912.51,526.47L913.33,526.96L914.16,527.42L914.98,527.86L915.81,528.26L916.64,528.65L917.46,529L918.29,529.34L919.12,529.65L919.94,529.94L920.77,530.2L921.59,530.45L922.42,530.68L923.25,530.9L924.07,531.09L924.9,531.27L925.72,531.44L926.55,531.59L927.38,531.73L928.2,531.86L929.03,531.97L929.85,532.07L930.68,532.17L931.51,532.25L932.33,532.32L933.16,532.39L933.99,532.45L934.81,532.5L935.64,532.55L936.46,532.59L937.29,532.63L938.12,532.66L938.94,532.68L939.77,532.7L940.59,532.72L941.42,532.74L942.25,532.75L943.07,532.76L943.9,532.77L944.73,532.78L945.55,532.78L946.38,532.79L947.2,532.79L948.03,532.79L948.86,532.8L949.68,532.8L950.51,532.8L951.33,532.8L952.16,532.8L952.99,532.8L953.81,532.8L954.64,532.8L955.47,532.8"/>
<path class="c" stroke="#f00" stroke-width="4.8" d="M46.7,346.25L46.7,346.25M46.7,346.25L47.18,347.34M51.07,356.1L51.66,357.42M56.61,368.42L56.97,369.2M60.99,377.89L61.5,378.97M65.67,387.59L65.7,387.66M71.48,398.92L72.26,400.35M76.99,408.68L77.27,409.14M77.27,409.14L77.61,409.71M82.79,417.76L83.05,418.14M91.31,428.51L91.75,428.97M98.99,435.21L99.57,435.6M99.57,435.6L99.99,435.86M108.85,439.31L109.49,439.4M116.1,449.62L116.4,450.3M120.33,459.03L120.82,460.12M124.83,468.82L125.18,469.57M130.97,481.56L131.07,481.76M135.44,490.28L135.92,491.19M135.92,491.19L136,491.34M140.67,499.7L140.88,500.06M148.32,511.7L148.39,511.81M154.28,519.35L154.93,520.08M154.93,520.08L155.08,520.25M162.05,526.79L162.36,527.03M174.75,532.21L175.12,532.24M184.43,530.47L184.67,530.37M185.49,529.97L185.52,529.96M193.32,524.46L193.75,524.06M202.02,514.77L202.81,513.71M208.21,505.79L208.63,505.13M208.63,505.13L208.84,504.78M213.72,496.54L214.41,495.31M214.41,495.31L214.41,495.31M214.41,495.31L214.99,494.26M219.47,485.8L220.19,484.39M225.15,474.31L225.82,472.91M229.87,464.24L230.11,463.73M230.11,463.73L230.37,463.15M234.33,454.43L235.06,452.79M240.02,441.67L240.18,441.31M248.52,437.97L249.11,437.72M249.11,437.72L249.61,437.49M257.52,432.15L258.19,431.55M266.46,422.35L267.11,421.48M272.55,413.6L273.07,412.79M273.07,412.79L273.19,412.59M278.09,404.37L278.85,403.02M284.63,392.14L284.86,391.69M289.1,383.11L289.59,382.09M289.59,382.09L289.62,382.03M293.7,373.36L293.72,373.31M299.5,360.59L299.64,360.29M303.54,351.54L303.63,351.32M303.63,351.32L304.02,350.44M308.26,351.61L308.59,352.37M313.55,363.46L314.12,364.73M318.1,373.44L318.5,374.31M318.5,374.31L318.6,374.53M322.7,383.18L323.46,384.76M328.42,394.65L329.13,396.03M333.71,404.44L334.2,405.3M334.2,405.3L334.3,405.48M339.25,413.67L339.98,414.8M347.42,425.01L347.67,425.31M354.3,432.2L354.85,432.68M354.85,432.68L355.21,432.98M363.32,438L363.94,438.25M373.03,444.57L373.56,445.75M377.46,454.5L377.95,455.59M381.92,464.31L382.12,464.74M387.9,476.99L388.05,477.3M392.32,485.87L392.86,486.91M392.86,486.91L392.87,486.93M397.39,495.38L397.81,496.14M404.42,507.15L404.78,507.69M410.31,515.51L411.03,516.43M411.03,516.43L411.05,516.45M417.46,523.55L417.64,523.73M429.21,531.21L429.43,531.28M438.88,531.96L439.12,531.91M439.95,531.73L440.05,531.7M448.63,527.58L449.04,527.29M458.12,518.6L458.93,517.63M461.43,514.46L461.43,514.46M461.43,514.46L462.14,513.5M467.52,505.58L468.04,504.76M474.65,493.39L474.76,493.17M479.21,484.69L479.6,483.93M479.6,483.93L479.75,483.63M483.98,475.03L484.56,473.83M489.52,463.22L490.07,462.02M494.02,453.3L494.47,452.28M494.47,452.28L494.51,452.2M498.4,443.46L498.6,443M509.34,437.23L509.84,436.97M517.57,431.36L517.61,431.33M518.43,430.55L518.44,430.54M524.82,423.4L525.04,423.12M532.48,412.42L532.99,411.6M537.84,403.35L538.26,402.6M538.26,402.6L538.43,402.3M542.93,393.85L543.22,393.3M549,381.6L549.3,380.97M553.37,372.3L553.87,371.21M557.83,362.5L558.09,361.92M563.04,350.8L563.67,349.37M568.03,352.96L568.52,354.06M572.43,362.8L572.96,363.98M577.91,374.81L578.4,375.86M582.52,384.51L582.87,385.24M582.87,385.24L583.04,385.59M587.34,394.15L587.83,395.1M593.61,405.71L594.22,406.75M599.24,414.91L599.39,415.15M599.39,415.15L599.9,415.91M605.51,423.67L606,424.29M615.09,433.55L615.54,433.9M623.88,438.51L624.18,438.61M625.01,438.85L625.03,438.86M631.83,443.71L632.44,445.09M637.4,456.18L637.69,456.82M641.67,465.54L642.17,466.62M646.26,475.28L646.49,475.76M652.27,487.36L652.67,488.13M657.23,496.56L657.82,497.6M662.74,505.81L663.01,506.23M670.44,516.72L671.08,517.5M677.63,524.47L677.88,524.7M677.88,524.7L678.53,525.26M686.52,530.47L686.97,530.67M700.19,531.44L700.53,531.33M708.45,527.12L708.45,527.12M709.27,526.49L709.4,526.39M716.29,519.76L716.71,519.29M724.14,509.5L724.94,508.31M729.99,500.17L730.59,499.14M735.24,490.76L735.71,489.88M741.49,478.47L741.74,477.96M745.87,469.32L746.38,468.23M750.38,459.53L750.58,459.09M755.54,448.06L756.26,446.43M761.51,439.39L762.15,439.31M762.15,439.31L762.69,439.21M771.47,435.53L772.06,435.14M781.97,425.88L782,425.84M787.82,418.23L788.5,417.25M793.65,409.18L794.37,407.97M800.15,397.61L800.66,396.64M805.01,388.11L805.11,387.92M805.11,387.92L805.54,387.04M809.7,378.41L810.06,377.63M815.02,366.89L815.71,365.36M819.63,356.63L819.98,355.85M819.98,355.85L820.12,355.53M824,346.78L824.11,346.54M829.89,358.98L830.05,359.32M833.98,368.05L834.02,368.14L834.48,369.14M838.51,377.83L838.98,378.83M844.76,390.71L844.78,390.75M849.2,399.25L849.72,400.2M849.72,400.2L849.77,400.3M854.5,408.63L854.68,408.92M862.11,420.28L862.38,420.64M868.43,428.05L868.72,428.37M868.72,428.37L869.25,428.92M876.48,435.18L876.98,435.52M889.37,440.03L889.53,440.39M893.42,449.14L893.5,449.33M893.5,449.33L893.91,450.23M897.84,458.97L898.46,460.34M903.42,471.05L903.87,472M908.04,480.62L908.38,481.3M908.38,481.3L908.57,481.7M912.95,490.22L913.33,490.94M919.94,502.62L920.01,502.72M925.2,510.77L925.72,511.51M925.72,511.51L925.89,511.75M931.78,519.3L932.33,519.93M942.25,528.64L942.49,528.78M951.39,532.11L952.16,532.2M952.16,532.2L952.59,532.23"/>
<path class="r" stroke="#f00" stroke-width="4.8" d="M46.7,346.25h0.01M51.66,357.42L52.48,359.27L53.31,361.11L54.14,362.95L54.96,364.78L55.79,366.61L56.61,368.42M65.7,387.66L66.53,389.32L67.35,390.97L68.18,392.6L69.01,394.2L69.83,395.79L70.66,397.37L71.48,398.92M77.26,409.14h0.01M83.05,418.14L83.88,419.31L84.7,420.45L85.53,421.57L86.36,422.65L87.18,423.71L88.01,424.73L88.83,425.72L89.66,426.68L90.49,427.61L91.31,428.51M99.57,435.6h0.01M109.49,439.4L110.31,439.48L111.14,439.52L111.97,440.33L112.79,442.19L113.62,444.05L114.44,445.91L115.27,447.77L116.1,449.62M125.18,469.57L126.01,471.32L126.84,473.07L127.66,474.79L128.49,476.51L129.32,478.21L130.14,479.89L130.97,481.56M135.92,491.19h0.01M140.88,500.06L141.71,501.46L142.53,502.83L143.36,504.18L144.19,505.5L145.01,506.8L145.84,508.06L146.66,509.3L147.49,510.51L148.32,511.7M154.92,520.08h0.01M162.36,527.03L163.19,527.62L164.01,528.19L164.84,528.72L165.67,529.21L166.49,529.67L167.32,530.09L168.14,530.47L168.97,530.82L169.8,531.13L170.62,531.4L171.45,531.64L172.27,531.84L173.1,532L173.93,532.13L174.75,532.21M184.67,530.37L185.49,529.97M193.75,524.06L194.58,523.28L195.41,522.47L196.23,521.62L197.06,520.73L197.89,519.82L198.71,518.87L199.54,517.89L200.36,516.88L201.19,515.84L202.02,514.77M208.62,505.13h0.01M214.4,495.31h0.01M220.19,484.39L221.02,482.75L221.84,481.09L222.67,479.42L223.5,477.73L224.32,476.03L225.15,474.31M230.1,463.73h0.01M235.06,452.79L235.89,450.95L236.71,449.1L237.54,447.24L238.37,445.39L239.19,443.53L240.02,441.67M249.1,437.72h0.01M258.19,431.55L259.02,430.77L259.85,429.97L260.67,429.13L261.5,428.26L262.33,427.35L263.15,426.42L263.98,425.45L264.8,424.45L265.63,423.42L266.46,422.35M273.06,412.79h0.01M278.85,403.02L279.67,401.53L280.5,400.02L281.33,398.48L282.15,396.93L282.98,395.35L283.81,393.75L284.63,392.14M289.58,382.09h0.01M293.72,373.31L294.55,371.52L295.37,369.72L296.2,367.91L297.02,366.09L297.85,364.27L298.68,362.43L299.5,360.59M303.63,351.32h0.01M308.59,352.37L309.42,354.23L310.24,356.08L311.07,357.94L311.89,359.78L312.72,361.63L313.55,363.46M318.5,374.31h0.01M323.46,384.76L324.29,386.45L325.11,388.13L325.94,389.79L326.77,391.43L327.59,393.05L328.42,394.65M334.2,405.3h0.01M339.98,414.8L340.81,416.05L341.64,417.27L342.46,418.47L343.29,419.63L344.11,420.77L344.94,421.88L345.77,422.95L346.59,424L347.42,425.01M354.85,432.68h0.01M363.94,438.25L364.77,438.54L365.59,438.79L366.42,439L367.25,439.18L368.07,439.32L368.9,439.43L369.72,439.49L370.55,439.52L371.38,440.85L372.2,442.71L373.03,444.57M382.12,464.74L382.94,466.52L383.77,468.3L384.6,470.06L385.42,471.81L386.25,473.55L387.07,475.28L387.9,476.99M392.85,486.91h0.01M397.81,496.14L398.64,497.6L399.47,499.04L400.29,500.46L401.12,501.85L401.94,503.21L402.77,504.55L403.6,505.87L404.42,507.15M411.03,516.43h0.01M417.64,523.73L418.47,524.49L419.29,525.22L420.12,525.91L420.95,526.57L421.77,527.2L422.6,527.79L423.42,528.34L424.25,528.86L425.08,529.34L425.9,529.79L426.73,530.2L427.56,530.57L428.38,530.91L429.21,531.21M439.12,531.91L439.95,531.73M449.04,527.29L449.86,526.67L450.69,526.02L451.51,525.33L452.34,524.61L453.17,523.85L453.99,523.06L454.82,522.23L455.64,521.37L456.47,520.48L457.3,519.56L458.12,518.6M461.42,514.46h0.01M468.04,504.76L468.86,503.43L469.69,502.06L470.52,500.68L471.34,499.27L472.17,497.83L472.99,496.37L473.82,494.89L474.65,493.39M479.6,483.93h0.01M484.56,473.83L485.39,472.09L486.21,470.34L487.04,468.58L487.86,466.8L488.69,465.02L489.52,463.22M494.47,452.28h0.01M498.6,443L499.43,441.14L500.26,439.52L501.08,439.5L501.91,439.44L502.74,439.34L503.56,439.21L504.39,439.04L505.21,438.83L506.04,438.58L506.87,438.3L507.69,437.98L508.52,437.62L509.34,437.23M517.61,431.33L518.43,430.55M525.04,423.12L525.87,422.05L526.69,420.95L527.52,419.81L528.35,418.65L529.17,417.46L530,416.24L530.82,415L531.65,413.72L532.48,412.42M538.25,402.6h0.01M543.22,393.3L544.04,391.68L544.87,390.04L545.69,388.39L546.52,386.72L547.35,385.03L548.17,383.32L549,381.6M558.09,361.92L558.91,360.07L559.74,358.23L560.57,356.38L561.39,354.52L562.22,352.66L563.04,350.8M572.96,363.98L573.78,365.81L574.61,367.63L575.44,369.44L576.26,371.24L577.09,373.03L577.91,374.81M582.87,385.24h0.01M587.83,395.1L588.65,396.68L589.48,398.24L590.31,399.78L591.13,401.29L591.96,402.79L592.79,404.26L593.61,405.71M599.39,415.15h0.01M606,424.29L606.83,425.29L607.66,426.27L608.48,427.21L609.31,428.12L610.13,429L610.96,429.84L611.79,430.65L612.61,431.43L613.44,432.17L614.27,432.88L615.09,433.55M624.18,438.61L625.01,438.85M632.44,445.09L633.27,446.95L634.09,448.81L634.92,450.66L635.75,452.5L636.57,454.35L637.4,456.18M646.49,475.76L647.31,477.47L648.14,479.16L648.96,480.83L649.79,482.49L650.62,484.13L651.44,485.75L652.27,487.36M663.01,506.23L663.83,507.51L664.66,508.76L665.49,509.99L666.31,511.18L667.14,512.35L667.97,513.49L668.79,514.59L669.62,515.67L670.44,516.72M677.87,524.7h0.01M686.97,530.67L687.79,531L688.62,531.29L689.45,531.54L690.27,531.75L691.1,531.93L691.92,532.07L692.75,532.18L693.58,532.25L694.4,532.28L695.23,532.27L696.05,532.22L696.88,532.14L697.71,532.02L698.53,531.87L699.36,531.67L700.19,531.44M708.45,527.12L709.27,526.49M716.71,519.29L717.53,518.33L718.36,517.33L719.19,516.3L720.01,515.24L720.84,514.15L721.67,513.03L722.49,511.88L723.32,510.7L724.14,509.5M735.71,489.88L736.54,488.3L737.36,486.71L738.19,485.1L739.01,483.47L739.84,481.82L740.67,480.16L741.49,478.47M750.58,459.09L751.41,457.27L752.23,455.44L753.06,453.6L753.88,451.76L754.71,449.91L755.54,448.06M762.14,439.31h0.01M772.06,435.14L772.89,434.55L773.71,433.94L774.54,433.28L775.36,432.6L776.19,431.87L777.02,431.12L777.84,430.33L778.67,429.5L779.5,428.65L780.32,427.75L781.15,426.83L781.97,425.88M794.37,407.97L795.19,406.56L796.02,405.13L796.84,403.67L797.67,402.19L798.5,400.68L799.32,399.16L800.15,397.61M805.1,387.92h0.01M810.06,377.63L810.89,375.87L811.72,374.09L812.54,372.31L813.37,370.51L814.19,368.71L815.02,366.89M819.97,355.85h0.01M824.11,346.54L824.93,347.82L825.76,349.69L826.59,351.55L827.41,353.41L828.24,355.27L829.06,357.12L829.89,358.98M838.98,378.83L839.8,380.57L840.63,382.3L841.46,384.01L842.28,385.71L843.11,387.39L843.94,389.06L844.76,390.71M849.71,400.2h0.01M854.68,408.92L855.5,410.29L856.33,411.64L857.15,412.95L857.98,414.24L858.81,415.51L859.63,416.74L860.46,417.95L861.28,419.13L862.11,420.28M868.71,428.37h0.01M876.98,435.52L877.81,436.04L878.63,436.53L879.46,436.98L880.29,437.39L881.11,437.77L881.94,438.11L882.76,438.42L883.59,438.68L884.42,438.92L885.24,439.11L886.07,439.27L886.9,439.39L887.72,439.47L888.55,439.52L889.37,440.03M893.5,449.33h0.01M898.46,460.34L899.29,462.15L900.11,463.95L900.94,465.74L901.77,467.52L902.59,469.29L903.42,471.05M908.37,481.3h0.01M913.33,490.94L914.16,492.48L914.98,494L915.81,495.49L916.64,496.97L917.46,498.41L918.29,499.84L919.12,501.24L919.94,502.62M925.72,511.51h0.01M932.33,519.93L933.16,520.84L933.99,521.72L934.81,522.57L935.64,523.38L936.46,524.16L937.29,524.9L938.12,525.61L938.94,526.29L939.77,526.93L940.59,527.53L941.42,528.1L942.25,528.64M952.16,532.2h0.01"/>
<path class="c" stroke="#0f0" stroke-width="4.8" d="M46.7,346.25L46.7,346.25M59.92,350.98L59.99,351.04M70.27,361.02L70.66,361.5M78.09,371.91L78.6,372.71M85.86,385.11L86.36,386.02M92.14,397.2L92.47,397.86M98.67,410.82L98.75,410.98M104.53,423.63L104.64,423.88M110.49,437L111.14,438.46M116.1,449.62L116.32,450.13M122.24,463.22L122.71,464.23M127.66,474.79L128.35,476.22M134.8,489.06L135.1,489.63M141.71,501.46L141.79,501.6M149.69,513.6L149.97,513.98M159.06,524.28L159.16,524.37M171.4,531.62L171.45,531.64M184.67,530.37L185.35,530.04M196.6,521.23L197.06,520.73M205.32,510.18L205.47,509.95M213.04,497.74L213.58,496.78M213.58,496.78L214.41,495.31M214.41,495.31L214.41,495.31M221.02,482.75L221.09,482.6M227.35,469.66L227.63,469.07M232.58,458.3L233.35,456.61M239.21,443.5L240.02,441.67M244.98,430.5L245.04,430.37M250.93,417.27L251.59,415.84M256.54,405.22L257.01,404.25M263.39,391.38L263.98,390.25M269.76,379.69L270.29,378.78M278.01,366.68L278.02,366.67M287.11,355.71L287.18,355.64M298.94,347.57L299.5,347.36M312.72,347.53L312.97,347.62M324.69,355.76L325.11,356.18M333.37,366.16L333.83,366.81M341.55,378.92L341.64,379.06M348.24,391.14L348.44,391.52M354.82,404.39L354.85,404.46M360.64,416.85L360.89,417.41M366.79,430.51L367.25,431.54M372.2,442.71L372.62,443.64M378.48,456.75L378.81,457.5M383.77,468.3L384.48,469.81M390.74,482.74L391.2,483.67M396.99,494.66L397.43,495.45M404.82,507.76L405.25,508.41M412.68,518.45L413.39,519.27M424.1,528.77L424.25,528.86M437.47,532.17L437.78,532.13M450.6,526.09L450.69,526.02M459.78,516.59L460.48,515.7M461.43,514.46L461.43,514.46M468.86,503.43L469.41,502.52M476.46,490.01L477.12,488.75M482.91,477.26L482.94,477.19M489.07,464.2L489.52,463.22M494.47,452.28L494.99,451.11M500.83,437.99L501.08,437.42M506.04,426.28L506.68,424.86M512.63,411.79L512.65,411.75M518.43,399.61L518.82,398.83M525.39,386.05L525.87,385.17M532.48,373.79L532.58,373.62M540.81,361.86L541.56,360.93M550.65,351.87L550.9,351.68M563.98,346.28L564.7,346.25M577.09,350.18L577.47,350.43M587.94,360.2L588.65,361.06M596.09,371.35L596.38,371.81M603.7,384.16L604.35,385.35M610.13,396.47L610.35,396.9M616.58,409.84L616.74,410.2M622.53,422.83L622.56,422.9M628.41,436.02L629.14,437.65M634.09,448.81L634.25,449.15M640.15,462.24L640.7,463.45M645.66,474.04L646.24,475.25M652.66,488.1L653.09,488.94M658.88,499.44L659.6,500.68M667.41,512.73L667.97,513.49M676.23,523.16L676.73,523.64M688.73,531.32L689.45,531.54M702.66,530.53L702.74,530.49M708.45,527.12L708.45,527.12M718.36,517.33L718.61,517.02M726.88,505.29L727.45,504.39M734.06,492.96L734.1,492.87M740.69,480.11L741.49,478.47M746.45,468.08L746.88,467.15M752.85,454.08L753.06,453.6M758.02,442.48L758.69,440.96M764.53,427.83L764.62,427.61M770.41,414.83L770.45,414.74M776.57,401.75L777.02,400.82M782.8,389.37L783.04,388.92M790.06,376.39L790.24,376.1M797.67,364.88L798.01,364.43M807.57,353.74L807.58,353.73M819.15,346.96L819.95,346.75M833.86,348.77L834.02,348.85M844.76,357.53L844.97,357.76M853.77,369.09L853.85,369.2M861.28,381.31L861.3,381.33M868.06,394L868.72,395.29M873.68,405.43L874.37,406.9M880.4,419.94L881.11,421.51M886.07,432.59L886.27,433.05M892.1,446.18L892.68,447.47M897.64,458.52L897.98,459.29M904.02,472.32L904.24,472.79M910.03,484.59L910.35,485.22M917.15,497.87L917.46,498.41M924.07,509.11L924.72,510.07M933.62,521.33L933.99,521.72M944.73,530.02L944.9,530.1"/>
<path class="r" stroke="#0f0" stroke-width="4.8" d="M46.7,346.25L47.53,346.27L48.35,346.32L49.18,346.42L50,346.55L50.83,346.72L51.66,346.92L52.48,347.16L53.31,347.44L54.14,347.76L54.96,348.11L55.79,348.5L56.61,348.92L57.44,349.38L58.27,349.88L59.09,350.42L59.92,350.98M70.66,361.5L71.48,362.54L72.31,363.61L73.14,364.71L73.96,365.84L74.79,366.99L75.62,368.18L76.44,369.4L77.27,370.64L78.09,371.91M86.36,386.02L87.18,387.56L88.01,389.12L88.83,390.7L89.66,392.3L90.49,393.91L91.31,395.55L92.14,397.2M98.75,410.98L99.57,412.76L100.4,414.55L101.23,416.35L102.05,418.16L102.88,419.98L103.7,421.8L104.53,423.63M111.14,438.46L111.97,440.33L112.79,442.19L113.62,444.05L114.44,445.91L115.27,447.77L116.1,449.62M122.71,464.23L123.53,466.02L124.36,467.8L125.18,469.57L126.01,471.32L126.84,473.07L127.66,474.79M135.1,489.63L135.92,491.19L136.75,492.72L137.58,494.23L138.4,495.73L139.23,497.2L140.06,498.64L140.88,500.06L141.71,501.46M149.97,513.98L150.79,515.07L151.62,516.13L152.45,517.17L153.27,518.17L154.1,519.14L154.93,520.08L155.75,520.99L156.58,521.86L157.4,522.7L158.23,523.51L159.06,524.28M171.45,531.64L172.27,531.84L173.1,532L173.93,532.13L174.75,532.21L175.58,532.26L176.41,532.28L177.23,532.25L178.06,532.19L178.88,532.09L179.71,531.96L180.54,531.79L181.36,531.58L182.19,531.33L183.01,531.04L183.84,530.72L184.67,530.37M197.06,520.73L197.89,519.82L198.71,518.87L199.54,517.89L200.36,516.88L201.19,515.84L202.02,514.77L202.84,513.66L203.67,512.53L204.49,511.37L205.32,510.18M213.58,496.78h0.01M214.41,495.31L215.23,493.81L216.06,492.29L216.89,490.75L217.71,489.19L218.54,487.61L219.37,486.01L220.19,484.39L221.02,482.75M227.63,469.07L228.45,467.3L229.28,465.52L230.11,463.73L230.93,461.93L231.76,460.12L232.58,458.3M240.02,441.67L240.85,439.8L241.67,437.94L242.5,436.08L243.32,434.22L244.15,432.36L244.98,430.5M251.59,415.84L252.41,414.04L253.24,412.25L254.06,410.48L254.89,408.71L255.72,406.96L256.54,405.22M263.98,390.25L264.8,388.68L265.63,387.13L266.46,385.59L267.28,384.08L268.11,382.59L268.93,381.13L269.76,379.69M278.02,366.67L278.85,365.52L279.67,364.4L280.5,363.31L281.33,362.25L282.15,361.22L282.98,360.22L283.81,359.25L284.63,358.32L285.46,357.42L286.28,356.55L287.11,355.71M299.5,347.36L300.33,347.09L301.15,346.86L301.98,346.67L302.81,346.51L303.63,346.39L304.46,346.31L305.29,346.26L306.11,346.25L306.94,346.28L307.76,346.35L308.59,346.45L309.42,346.59L310.24,346.77L311.07,346.98L311.89,347.24L312.72,347.53M325.11,356.18L325.94,357.03L326.77,357.92L327.59,358.84L328.42,359.79L329.24,360.78L330.07,361.79L330.9,362.84L331.72,363.91L332.55,365.02L333.37,366.16M341.64,379.06L342.46,380.49L343.29,381.95L344.11,383.43L344.94,384.93L345.77,386.45L346.59,388L347.42,389.56L348.24,391.14M354.85,404.46L355.68,406.19L356.51,407.94L357.33,409.7L358.16,411.47L358.98,413.26L359.81,415.05L360.64,416.85M367.25,431.54L368.07,433.4L368.9,435.26L369.72,437.12L370.55,438.99L371.38,440.85L372.2,442.71M378.81,457.5L379.64,459.32L380.46,461.13L381.29,462.94L382.12,464.74L382.94,466.52L383.77,468.3M391.2,483.67L392.03,485.3L392.86,486.91L393.68,488.5L394.51,490.07L395.34,491.62L396.16,493.15L396.99,494.66M405.25,508.41L406.08,509.65L406.9,510.85L407.73,512.02L408.55,513.17L409.38,514.29L410.21,515.37L411.03,516.43L411.86,517.45L412.68,518.45M424.25,528.86L425.08,529.34L425.9,529.79L426.73,530.2L427.56,530.57L428.38,530.91L429.21,531.21L430.03,531.47L430.86,531.7L431.69,531.89L432.51,532.04L433.34,532.15L434.16,532.23L434.99,532.27L435.82,532.27L436.64,532.24L437.47,532.17M450.69,526.02L451.51,525.33L452.34,524.61L453.17,523.85L453.99,523.06L454.82,522.23L455.64,521.37L456.47,520.48L457.3,519.56L458.12,518.6L458.95,517.61L459.78,516.59M461.43,514.46L462.25,513.35L463.08,512.21L463.91,511.04L464.73,509.84L465.56,508.61L466.38,507.35L467.21,506.07L468.04,504.76L468.86,503.43M477.12,488.75L477.95,487.16L478.78,485.55L479.6,483.93L480.43,482.29L481.26,480.63L482.08,478.95L482.91,477.26M489.52,463.22L490.34,461.42L491.17,459.61L492,457.78L492.82,455.95L493.65,454.12L494.47,452.28M501.08,437.42L501.91,435.55L502.74,433.69L503.56,431.84L504.39,429.98L505.21,428.13L506.04,426.28M512.65,411.75L513.48,409.98L514.3,408.22L515.13,406.47L515.95,404.73L516.78,403.01L517.61,401.3L518.43,399.61M525.87,385.17L526.69,383.66L527.52,382.18L528.35,380.72L529.17,379.28L530,377.87L530.82,376.49L531.65,375.12L532.48,373.79M541.56,360.93L542.39,359.94L543.22,358.99L544.04,358.06L544.87,357.17L545.69,356.31L546.52,355.49L547.35,354.69L548.17,353.93L549,353.21L549.83,352.52L550.65,351.87M564.7,346.25L565.52,346.26L566.35,346.3L567.17,346.37L568,346.49L568.83,346.64L569.65,346.83L570.48,347.05L571.31,347.31L572.13,347.61L572.96,347.95L573.78,348.32L574.61,348.73L575.44,349.18L576.26,349.66L577.09,350.18M588.65,361.06L589.48,362.08L590.31,363.14L591.13,364.22L591.96,365.34L592.79,366.48L593.61,367.66L594.44,368.86L595.26,370.09L596.09,371.35M604.35,385.35L605.18,386.88L606,388.43L606.83,390L607.66,391.59L608.48,393.2L609.31,394.83L610.13,396.47M616.74,410.2L617.57,411.97L618.4,413.76L619.22,415.56L620.05,417.36L620.87,419.18L621.7,421L622.53,422.83M629.14,437.65L629.96,439.51L630.79,441.37L631.61,443.23L632.44,445.09L633.27,446.95L634.09,448.81M640.7,463.45L641.53,465.24L642.35,467.02L643.18,468.8L644.01,470.56L644.83,472.3L645.66,474.04M653.09,488.94L653.92,490.51L654.75,492.05L655.57,493.57L656.4,495.08L657.23,496.55L658.05,498.01L658.88,499.44M667.97,513.49L668.79,514.59L669.62,515.67L670.44,516.72L671.27,517.73L672.1,518.72L672.92,519.67L673.75,520.59L674.57,521.48L675.4,522.33L676.23,523.16M689.45,531.54L690.27,531.75L691.1,531.93L691.92,532.07L692.75,532.18L693.58,532.25L694.4,532.28L695.23,532.27L696.05,532.22L696.88,532.14L697.71,532.02L698.53,531.87L699.36,531.67L700.19,531.44L701.01,531.17L701.84,530.87L702.66,530.53M708.45,527.12L709.27,526.49L710.1,525.83L710.93,525.13L711.75,524.4L712.58,523.63L713.4,522.83L714.23,521.99L715.06,521.12L715.88,520.22L716.71,519.29L717.53,518.33L718.36,517.33M727.45,504.39L728.27,503.05L729.1,501.68L729.93,500.28L730.75,498.87L731.58,497.42L732.4,495.96L733.23,494.47L734.06,492.96M741.49,478.47L742.32,476.78L743.14,475.07L743.97,473.34L744.8,471.6L745.62,469.85L746.45,468.08M753.06,453.6L753.88,451.76L754.71,449.91L755.54,448.06L756.36,446.2L757.19,444.34L758.02,442.48M764.62,427.61L765.45,425.76L766.28,423.92L767.1,422.09L767.93,420.26L768.76,418.44L769.58,416.63L770.41,414.83M777.02,400.82L777.84,399.14L778.67,397.46L779.5,395.81L780.32,394.17L781.15,392.55L781.97,390.95L782.8,389.37M790.24,376.1L791.06,374.75L791.89,373.42L792.71,372.11L793.54,370.84L794.37,369.59L795.19,368.37L796.02,367.18L796.84,366.02L797.67,364.88M807.58,353.73L808.41,353.01L809.24,352.33L810.06,351.69L810.89,351.08L811.72,350.5L812.54,349.96L813.37,349.46L814.19,348.99L815.02,348.56L815.85,348.17L816.67,347.81L817.5,347.49L818.32,347.2L819.15,346.96M834.02,348.85L834.85,349.31L835.67,349.8L836.5,350.33L837.33,350.89L838.15,351.49L838.98,352.13L839.8,352.8L840.63,353.5L841.46,354.24L842.28,355.01L843.11,355.82L843.94,356.65L844.76,357.53M853.85,369.2L854.68,370.44L855.5,371.71L856.33,373L857.15,374.33L857.98,375.67L858.81,377.04L859.63,378.44L860.46,379.86L861.28,381.31M868.72,395.29L869.55,396.94L870.37,398.61L871.2,400.29L872.02,401.99L872.85,403.7L873.68,405.43M881.11,421.51L881.94,423.35L882.76,425.18L883.59,427.03L884.42,428.88L885.24,430.73L886.07,432.59M892.68,447.47L893.5,449.33L894.33,451.18L895.16,453.02L895.98,454.86L896.81,456.7L897.64,458.52M904.24,472.79L905.07,474.52L905.9,476.24L906.72,477.94L907.55,479.63L908.38,481.3L909.2,482.95L910.03,484.59M917.46,498.41L918.29,499.84L919.12,501.24L919.94,502.62L920.77,503.97L921.59,505.29L922.42,506.59L923.25,507.87L924.07,509.11M933.99,521.72L934.81,522.57L935.64,523.38L936.46,524.16L937.29,524.9L938.12,525.61L938.94,526.29L939.77,526.93L940.59,527.53L941.42,528.1L942.25,528.64L943.07,529.13L943.9,529.6L944.73,530.02"/>
</g>
<text class="lab" transform="translate(78.60,26.95) scale(0.985,1)">(a)</text>
<g><text class="xl" transform="translate(479.90,594.35) scale(1.216,1)">t</text><text class="sl" transform="translate(490.40,594.30) skewX(-10.1)">/</text><text class="pi" transform="translate(501.80,595.90) scale(1.18,1)">π</text></g>
</g>
<g id="panel1">
<g stroke="#000" fill="none" stroke-linecap="butt">
<path stroke-width="2.1" d="M1080.20,2.90V533.90"/>
<path stroke-width="1.9" d="M1079.45,532.95H1990.00"/>
</g>
<g stroke="#000" stroke-width="1.9" fill="none">
<path d="M1080.15,533.00 h9.2 M1080.15,495.69 h9.2 M1080.15,458.38 h9.2 M1080.15,421.07 h9.2 M1080.15,383.76 h9.2 M1080.15,346.45 h9.2 M1080.15,309.14 h9.2 M1080.15,271.83 h9.2 M1080.15,234.52 h9.2 M1080.15,197.21 h9.2 M1080.15,159.90 h9.2 M1080.15,122.59 h9.2 M1080.15,85.28 h9.2 M1080.15,47.97 h9.2 M1080.15,10.66 h9.2 M1080.15,532.80 v-7 M1209.92,532.80 v-7 M1339.69,532.80 v-7 M1469.46,532.80 v-7 M1599.24,532.80 v-7 M1729.01,532.80 v-7 M1858.78,532.80 v-7 M1988.55,532.80 v-7"/>
</g>
<g class="tk">
<text text-anchor="end" transform="translate(1071.75,540.30) scale(1.406,1)">0</text>
<text text-anchor="end" transform="translate(1071.75,502.99) scale(1.406,1)">0.2</text>
<text text-anchor="end" transform="translate(1071.75,465.68) scale(1.406,1)">0.4</text>
<text text-anchor="end" transform="translate(1071.75,428.37) scale(1.406,1)">0.6</text>
<text text-anchor="end" transform="translate(1071.75,391.06) scale(1.406,1)">0.8</text>
<text text-anchor="end" clip-path="url(#k1e)" transform="translate(1071.75,353.75) scale(1.406,1)">1</text>
<text text-anchor="end" clip-path="url(#k1xe)" transform="translate(1071.75,316.44) scale(1.406,1)">1.2</text>
<text text-anchor="end" clip-path="url(#k1xe)" transform="translate(1071.75,279.13) scale(1.406,1)">1.4</text>
<text text-anchor="end" clip-path="url(#k1xe)" transform="translate(1071.75,241.82) scale(1.406,1)">1.6</text>
<text text-anchor="end" clip-path="url(#k1xe)" transform="translate(1071.75,204.51) scale(1.406,1)">1.8</text>
<text text-anchor="end" transform="translate(1071.75,167.20) scale(1.406,1)">2</text>
<text text-anchor="end" transform="translate(1071.75,129.89) scale(1.406,1)">2.2</text>
<text text-anchor="end" transform="translate(1071.75,92.58) scale(1.406,1)">2.4</text>
<text text-anchor="end" transform="translate(1071.75,55.27) scale(1.406,1)">2.6</text>
<text text-anchor="end" transform="translate(1071.75,17.96) scale(1.406,1)">2.8</text>
<text text-anchor="middle" transform="translate(1080.05,558.00) scale(1.406,1)">0</text>
<text text-anchor="middle" transform="translate(1209.82,558.00) scale(1.406,1)">0.5</text>
<text text-anchor="middle" clip-path="url(#k1m)" transform="translate(1339.59,558.00) scale(1.406,1)">1</text>
<text text-anchor="middle" clip-path="url(#k1xm)" transform="translate(1469.36,558.00) scale(1.406,1)">1.5</text>
<text text-anchor="middle" transform="translate(1599.14,558.00) scale(1.406,1)">2</text>
<text text-anchor="middle" transform="translate(1728.91,558.00) scale(1.406,1)">2.5</text>
<text text-anchor="middle" transform="translate(1858.68,558.00) scale(1.406,1)">3</text>
<text text-anchor="middle" transform="translate(1988.45,558.00) scale(1.406,1)">3.5</text>
</g>
<g clip-path="url(#cp1)">
<path d="M1079.95,159.7h1.6M1090.76,159.7h1.6M1101.57,159.7h1.6M1112.38,159.7h1.6M1123.19,159.7h1.6M1134,159.7h1.6M1144.81,159.7h1.6M1155.62,159.7h1.6M1166.43,159.7h1.6M1177.24,159.7h1.6M1188.05,159.7h1.6M1198.86,159.7h1.6M1209.67,159.7h1.6M1220.48,159.7h1.6M1231.29,159.7h1.6M1242.1,159.7h1.6M1247.66,159.7h1.6M1258.47,159.7h1.6M1269.28,159.7h1.6M1280.09,159.7h1.6M1290.9,159.7h1.6M1301.71,159.7h1.6M1312.52,159.7h1.6M1323.33,159.7h1.6M1334.14,159.7h1.6M1344.95,159.7h1.6M1355.76,159.7h1.6M1366.57,159.7h1.6M1377.38,159.7h1.6M1388.19,159.7h1.6M1399,159.7h1.6M1409.81,159.7h1.6M1420.62,159.7h1.6M1431.43,159.7h1.6M1442.24,159.7h1.6M1453.05,159.7h1.6M1463.86,159.7h1.6M1474.67,159.7h1.6M1485.48,159.7h1.6M1494.68,159.7h1.6M1505.49,159.7h1.6M1516.3,159.7h1.6M1527.11,159.7h1.6M1537.92,159.7h1.6M1548.73,159.7h1.6M1559.54,159.7h1.6M1570.35,159.7h1.6M1581.16,159.7h1.6M1591.97,159.7h1.6M1602.78,159.7h1.6M1613.59,159.7h1.6M1624.4,159.7h1.6M1635.21,159.7h1.6M1646.02,159.7h1.6M1656.83,159.7h1.6M1667.64,159.7h1.6M1678.45,159.7h1.6M1689.26,159.7h1.6M1700.07,159.7h1.6M1710.88,159.7h1.6M1721.69,159.7h1.6M1732.5,159.7h1.6M1741.7,159.7h1.6M1752.51,159.7h1.6M1763.32,159.7h1.6M1774.13,159.7h1.6M1784.94,159.7h1.6M1795.75,159.7h1.6M1806.56,159.7h1.6M1817.37,159.7h1.6M1828.18,159.7h1.6M1838.99,159.7h1.6M1849.8,159.7h1.6M1860.61,159.7h1.6M1871.42,159.7h1.6M1882.23,159.7h1.6M1893.04,159.7h1.6M1903.85,159.7h1.6M1914.66,159.7h1.6M1925.47,159.7h1.6M1936.28,159.7h1.6M1947.09,159.7h1.6M1957.9,159.7h1.6M1968.71,159.7h1.6M1979.52,159.7h1.6" stroke="#f00" stroke-width="3.1" fill="none"/>
<path class="c" stroke="#00f" stroke-width="5.2" d="M1080.15,5.16L1080.98,5.74L1081.8,6.42L1082.63,7.21L1083.45,8.1L1084.28,9.1L1085.11,10.2L1085.93,11.4L1086.76,12.7L1087.59,14.11L1088.41,15.61L1089.24,17.22L1090.06,18.92L1090.89,20.72L1091.72,22.62L1092.54,24.62L1093.37,26.71L1094.19,28.9L1095.02,31.18L1095.85,33.55L1096.67,36.02L1097.5,38.57L1098.33,41.22L1099.15,43.95L1099.98,46.77L1100.8,49.68L1101.63,52.67L1102.46,55.75L1103.28,58.91L1104.11,62.15L1104.93,65.47L1105.76,68.86L1106.59,72.34L1107.41,75.89L1108.24,79.51L1109.07,83.2L1109.89,86.97L1110.72,90.81L1111.54,94.71L1112.37,98.68L1113.2,102.71L1114.02,106.81L1114.85,110.97L1115.67,115.18L1116.5,119.46L1117.33,123.79L1118.15,128.18L1118.98,132.61L1119.81,137.1L1120.63,141.64L1121.46,146.23L1122.28,150.86L1123.11,155.53L1123.94,160.25L1124.76,165L1125.59,169.79L1126.41,174.62L1127.24,179.48L1128.07,184.38L1128.89,189.3L1129.72,194.26L1130.55,199.24L1131.37,204.24L1132.2,209.27L1133.02,214.31L1133.85,219.38L1134.68,224.46L1135.5,229.55L1136.33,234.66L1137.15,239.78L1137.98,244.91L1138.81,250.04L1139.63,255.18L1140.46,260.32L1141.29,265.46L1142.11,270.6L1142.94,275.74L1143.76,280.87L1144.59,286L1145.42,291.11L1146.24,296.22L1147.07,301.31L1147.89,306.38L1148.72,311.44L1149.55,316.48L1150.37,321.5L1151.2,326.5L1152.03,331.47L1152.85,336.42L1153.68,341.34L1154.5,346.23L1155.33,351.09L1156.16,355.91L1156.98,360.7L1157.81,365.45L1158.63,370.16L1159.46,372.09L1160.29,369.76L1161.11,367.2L1161.94,364.42L1162.77,361.45L1163.59,358.29L1164.42,354.99L1165.24,351.54L1166.07,347.97L1166.9,344.3L1167.72,340.55L1168.55,336.72L1169.37,332.83L1170.2,328.9L1171.03,324.94L1171.85,320.95L1172.68,316.96L1173.51,312.96L1174.33,308.98L1175.16,305.01L1175.98,301.07L1176.81,297.17L1177.64,293.3L1178.46,289.49L1179.29,285.72L1180.11,282.02L1180.94,278.38L1181.77,274.81L1182.59,271.31L1183.42,267.9L1184.24,264.56L1185.07,261.32L1185.9,258.16L1186.72,255.1L1187.55,252.13L1188.38,249.27L1189.2,246.5L1190.03,243.84L1190.85,241.29L1191.68,238.85L1192.51,236.52L1193.33,234.31L1194.16,232.21L1194.98,230.22L1195.81,228.36L1196.64,226.61L1197.46,224.99L1198.29,223.49L1199.12,222.11L1199.94,220.86L1200.77,219.73L1201.59,218.72L1202.42,217.85L1203.25,217.1L1204.07,216.48L1204.9,215.98L1205.72,215.61L1206.55,215.38L1207.38,215.26L1208.2,215.28L1209.03,215.42L1209.86,215.7L1210.68,216.09L1211.51,216.62L1212.33,217.27L1213.16,218.05L1213.99,218.95L1214.81,219.97L1215.64,221.12L1216.46,222.39L1217.29,223.78L1218.12,225.29L1218.94,226.92L1219.77,228.67L1220.6,230.53L1221.42,232.51L1222.25,234.6L1223.07,236.8L1223.9,239.11L1224.73,241.53L1225.55,244.05L1226.38,246.68L1227.2,249.4L1228.03,252.23L1228.86,255.15L1229.68,258.17L1230.51,261.27L1231.34,264.46L1232.16,267.74L1232.99,271.1L1233.81,274.54L1234.64,278.05L1235.47,281.63L1236.29,285.28L1237.12,288.99L1237.94,292.77L1238.77,296.59L1239.6,300.47L1240.42,304.39L1241.25,308.34L1242.08,312.34L1242.9,316.35L1243.73,320.39L1244.55,324.45L1245.38,328.51L1246.21,332.57L1247.03,336.62L1247.86,340.65L1248.68,344.65L1249.51,348.62L1250.34,352.54L1251.16,356.41L1251.99,360.2L1252.82,363.91L1253.64,367.52L1254.47,371.02L1255.29,374.4L1256.12,377.63L1256.95,380.71L1257.77,383.62L1258.6,386.33L1259.42,388.84L1260.25,391.12L1261.08,388L1261.9,384.13L1262.73,380.24L1263.56,376.33L1264.38,372.41L1265.21,368.48L1266.03,364.53L1266.86,360.58L1267.69,356.61L1268.51,352.65L1269.34,348.67L1270.16,344.7L1270.99,340.73L1271.82,336.75L1272.64,332.78L1273.47,328.81L1274.3,324.85L1275.12,320.9L1275.95,316.95L1276.77,313.02L1277.6,309.1L1278.43,305.19L1279.25,301.3L1280.08,297.43L1280.9,293.58L1281.73,289.74L1282.56,285.93L1283.38,282.14L1284.21,278.38L1285.04,274.65L1285.86,270.94L1286.69,267.26L1287.51,263.62L1288.34,260.01L1289.17,256.43L1289.99,252.89L1290.82,249.38L1291.64,245.92L1292.47,242.49L1293.3,239.11L1294.12,235.76L1294.95,232.47L1295.78,229.21L1296.6,226.01L1297.43,222.85L1298.25,219.74L1299.08,216.69L1299.91,213.68L1300.73,210.73L1301.56,207.83L1302.38,204.99L1303.21,202.2L1304.04,199.47L1304.86,196.8L1305.69,194.19L1306.52,191.64L1307.34,189.15L1308.17,186.72L1308.99,184.36L1309.82,182.06L1310.65,179.83L1311.47,177.66L1312.3,175.56L1313.12,173.53L1313.95,171.56L1314.78,169.67L1315.6,167.84L1316.43,166.08L1317.26,164.4L1318.08,162.79L1318.91,161.25L1319.73,159.78L1320.56,158.39L1321.39,157.07L1322.21,155.82L1323.04,154.65L1323.86,153.56L1324.69,152.54L1325.52,151.6L1326.34,150.73L1327.17,149.94L1328,149.22L1328.82,148.59L1329.65,148.03L1330.47,147.54L1331.3,147.14L1332.13,146.81L1332.95,146.56L1333.78,146.39L1334.6,146.29L1335.43,146.28L1336.26,146.34L1337.08,146.47L1337.91,146.69L1338.74,146.98L1339.56,147.35L1340.39,147.8L1341.21,148.32L1342.04,148.91L1342.87,149.59L1343.69,150.34L1344.52,151.16L1345.34,152.06L1346.17,153.03L1347,154.08L1347.82,155.2L1348.65,156.39L1349.48,157.66L1350.3,159L1351.13,160.4L1351.95,161.88L1352.78,163.43L1353.61,165.05L1354.43,166.73L1355.26,168.49L1356.08,170.31L1356.91,172.19L1357.74,174.14L1358.56,176.16L1359.39,178.24L1360.22,180.38L1361.04,182.59L1361.87,184.85L1362.69,187.17L1363.52,189.56L1364.35,192L1365.17,194.5L1366,197.05L1366.82,199.66L1367.65,202.32L1368.48,205.04L1369.3,207.8L1370.13,210.62L1370.96,213.49L1371.78,216.4L1372.61,219.36L1373.43,222.37L1374.26,225.42L1375.09,228.51L1375.91,231.65L1376.74,234.82L1377.56,238.04L1378.39,241.29L1379.22,244.58L1380.04,247.91L1380.87,251.27L1381.69,254.66L1382.52,258.08L1383.35,261.54L1384.17,265.02L1385,268.53L1385.83,272.07L1386.65,275.63L1387.48,279.21L1388.3,282.81L1389.13,286.44L1389.96,290.08L1390.78,293.74L1391.61,297.42L1392.43,301.11L1393.26,304.82L1394.09,308.53L1394.91,312.26L1395.74,315.99L1396.57,319.74L1397.39,323.48L1398.22,327.24L1399.04,330.99L1399.87,334.75L1400.7,338.51L1401.52,342.26L1402.35,346.01L1403.17,349.76L1404,353.51L1404.83,357.24L1405.65,360.97L1406.48,364.69L1407.31,368.39L1408.13,372.09L1408.96,375.76L1409.78,379.43L1410.61,383.08L1411.44,386.7L1412.26,390.31L1413.09,393.9L1413.91,397.47L1414.74,401.01L1415.57,404.53L1416.39,408.02L1417.22,411.48L1418.05,414.92L1418.87,414.9L1419.7,413.15L1420.52,411.24L1421.35,409.16L1422.18,406.95L1423,404.62L1423.83,402.17L1424.65,399.63L1425.48,397L1426.31,394.3L1427.13,391.54L1427.96,388.72L1428.79,385.87L1429.61,382.99L1430.44,380.09L1431.26,377.18L1432.09,374.26L1432.92,371.34L1433.74,368.43L1434.57,365.54L1435.39,362.67L1436.22,359.82L1437.05,357.01L1437.87,354.23L1438.7,351.49L1439.53,348.8L1440.35,346.15L1441.18,343.56L1442,341.02L1442.83,338.54L1443.66,336.12L1444.48,333.77L1445.31,331.48L1446.13,329.26L1446.96,327.11L1447.79,325.04L1448.61,323.04L1449.44,321.12L1450.27,319.28L1451.09,317.52L1451.92,315.84L1452.74,314.24L1453.57,312.73L1454.4,311.31L1455.22,309.97L1456.05,308.72L1456.87,307.56L1457.7,306.49L1458.53,305.5L1459.35,304.61L1460.18,303.82L1461.01,303.11L1461.83,302.49L1462.66,301.97L1463.48,301.54L1464.31,301.21L1465.14,300.97L1465.96,300.82L1466.79,300.76L1467.61,300.8L1468.44,300.93L1469.27,301.16L1470.09,301.47L1470.92,301.88L1471.75,302.38L1472.57,302.98L1473.4,303.66L1474.22,304.44L1475.05,305.3L1475.88,306.25L1476.7,307.3L1477.53,308.42L1478.35,309.64L1479.18,310.94L1480.01,312.32L1480.83,313.79L1481.66,315.34L1482.49,316.97L1483.31,318.68L1484.14,320.47L1484.96,322.34L1485.79,324.28L1486.62,326.29L1487.44,328.37L1488.27,330.53L1489.09,332.75L1489.92,335.04L1490.75,337.39L1491.57,339.8L1492.4,342.27L1493.23,344.8L1494.05,347.38L1494.88,350.01L1495.7,352.69L1496.53,355.42L1497.36,358.18L1498.18,360.99L1499.01,363.83L1499.83,366.7L1500.66,369.6L1501.49,372.52L1502.31,375.47L1503.14,378.42L1503.97,381.38L1504.79,384.35L1505.62,387.32L1506.44,390.27L1507.27,393.22L1508.1,396.14L1508.92,399.03L1509.75,401.88L1510.57,404.69L1511.4,407.44L1512.23,410.14L1513.05,412.75L1513.88,415.29L1514.71,417.73L1515.53,420.06L1516.36,422.28L1517.18,424.36L1518.01,426.3L1518.84,428.09L1519.66,429.02L1520.49,426.2L1521.31,423.37L1522.14,420.52L1522.97,417.66L1523.79,414.79L1524.62,411.92L1525.45,409.03L1526.27,406.14L1527.1,403.24L1527.92,400.34L1528.75,397.44L1529.58,394.54L1530.4,391.63L1531.23,388.73L1532.05,385.83L1532.88,382.93L1533.71,380.04L1534.53,377.15L1535.36,374.27L1536.19,371.4L1537.01,368.53L1537.84,365.68L1538.66,362.84L1539.49,360.02L1540.32,357.21L1541.14,354.41L1541.97,351.63L1542.79,348.87L1543.62,346.12L1544.45,343.4L1545.27,340.7L1546.1,338.02L1546.93,335.36L1547.75,332.73L1548.58,330.12L1549.4,327.54L1550.23,324.99L1551.06,322.46L1551.88,319.97L1552.71,317.5L1553.53,315.07L1554.36,312.67L1555.19,310.3L1556.01,307.97L1556.84,305.67L1557.67,303.41L1558.49,301.19L1559.32,299L1560.14,296.86L1560.97,294.75L1561.8,292.68L1562.62,290.66L1563.45,288.68L1564.27,286.74L1565.1,284.84L1565.93,282.99L1566.75,281.18L1567.58,279.42L1568.4,277.71L1569.23,276.04L1570.06,274.42L1570.88,272.85L1571.71,271.33L1572.54,269.86L1573.36,268.44L1574.19,267.07L1575.01,265.75L1575.84,264.48L1576.67,263.27L1577.49,262.1L1578.32,260.99L1579.14,259.93L1579.97,258.93L1580.8,257.98L1581.62,257.09L1582.45,256.25L1583.28,255.46L1584.1,254.73L1584.93,254.06L1585.75,253.44L1586.58,252.88L1587.41,252.37L1588.23,251.93L1589.06,251.53L1589.88,251.2L1590.71,250.92L1591.54,250.69L1592.36,250.52L1593.19,250.41L1594.02,250.36L1594.84,250.36L1595.67,250.42L1596.49,250.54L1597.32,250.71L1598.15,250.94L1598.97,251.23L1599.8,251.57L1600.62,251.97L1601.45,252.42L1602.28,252.93L1603.1,253.49L1603.93,254.11L1604.76,254.78L1605.58,255.51L1606.41,256.29L1607.23,257.12L1608.06,258.01L1608.89,258.94L1609.71,259.94L1610.54,260.98L1611.36,262.07L1612.19,263.22L1613.02,264.42L1613.84,265.66L1614.67,266.96L1615.5,268.3L1616.32,269.69L1617.15,271.13L1617.97,272.62L1618.8,274.15L1619.63,275.73L1620.45,277.35L1621.28,279.02L1622.1,280.73L1622.93,282.48L1623.76,284.28L1624.58,286.11L1625.41,287.99L1626.24,289.91L1627.06,291.87L1627.89,293.86L1628.71,295.89L1629.54,297.96L1630.37,300.06L1631.19,302.2L1632.02,304.38L1632.84,306.58L1633.67,308.82L1634.5,311.09L1635.32,313.39L1636.15,315.72L1636.98,318.08L1637.8,320.46L1638.63,322.87L1639.45,325.31L1640.28,327.77L1641.11,330.26L1641.93,332.77L1642.76,335.3L1643.58,337.85L1644.41,340.42L1645.24,343L1646.06,345.61L1646.89,348.23L1647.72,350.87L1648.54,353.52L1649.37,356.19L1650.19,358.87L1651.02,361.56L1651.85,364.26L1652.67,366.97L1653.5,369.69L1654.32,372.41L1655.15,375.14L1655.98,377.88L1656.8,380.62L1657.63,383.36L1658.46,386.1L1659.28,388.85L1660.11,391.6L1660.93,394.34L1661.76,397.08L1662.59,399.82L1663.41,402.55L1664.24,405.28L1665.06,408L1665.89,410.72L1666.72,413.42L1667.54,416.12L1668.37,418.8L1669.2,421.48L1670.02,424.14L1670.85,426.79L1671.67,429.42L1672.5,432.04L1673.33,434.64L1674.15,437.22L1674.98,439.79L1675.8,442.33L1676.63,444.86L1677.46,447.36L1678.28,446.3L1679.11,444.99L1679.94,443.56L1680.76,442.01L1681.59,440.37L1682.41,438.64L1683.24,436.83L1684.07,434.95L1684.89,433.02L1685.72,431.03L1686.54,429L1687.37,426.94L1688.2,424.85L1689.02,422.74L1689.85,420.62L1690.68,418.48L1691.5,416.35L1692.33,414.22L1693.15,412.1L1693.98,409.99L1694.81,407.89L1695.63,405.82L1696.46,403.77L1697.28,401.75L1698.11,399.76L1698.94,397.8L1699.76,395.87L1700.59,393.99L1701.42,392.15L1702.24,390.35L1703.07,388.59L1703.89,386.89L1704.72,385.23L1705.55,383.62L1706.37,382.07L1707.2,380.57L1708.02,379.12L1708.85,377.74L1709.68,376.41L1710.5,375.14L1711.33,373.93L1712.16,372.78L1712.98,371.69L1713.81,370.67L1714.63,369.71L1715.46,368.81L1716.29,367.98L1717.11,367.22L1717.94,366.52L1718.76,365.89L1719.59,365.32L1720.42,364.83L1721.24,364.4L1722.07,364.03L1722.9,363.74L1723.72,363.51L1724.55,363.36L1725.37,363.27L1726.2,363.25L1727.03,363.29L1727.85,363.41L1728.68,363.59L1729.5,363.84L1730.33,364.16L1731.16,364.55L1731.98,365L1732.81,365.52L1733.64,366.1L1734.46,366.75L1735.29,367.46L1736.11,368.24L1736.94,369.09L1737.77,369.99L1738.59,370.96L1739.42,371.99L1740.24,373.08L1741.07,374.23L1741.9,375.44L1742.72,376.7L1743.55,378.02L1744.38,379.4L1745.2,380.83L1746.03,382.32L1746.85,383.86L1747.68,385.45L1748.51,387.08L1749.33,388.77L1750.16,390.5L1750.98,392.27L1751.81,394.09L1752.64,395.95L1753.46,397.84L1754.29,399.78L1755.12,401.75L1755.94,403.75L1756.77,405.78L1757.59,407.83L1758.42,409.92L1759.25,412.02L1760.07,414.15L1760.9,416.29L1761.72,418.44L1762.55,420.6L1763.38,422.77L1764.2,424.93L1765.03,427.1L1765.85,429.26L1766.68,431.4L1767.51,433.53L1768.33,435.64L1769.16,437.71L1769.99,439.76L1770.81,441.76L1771.64,443.71L1772.46,445.61L1773.29,447.44L1774.12,449.2L1774.94,450.88L1775.77,452.47L1776.59,453.97L1777.42,455.36L1778.25,456.63L1779.07,456.39L1779.9,454.32L1780.73,452.25L1781.55,450.17L1782.38,448.08L1783.2,445.98L1784.03,443.87L1784.86,441.77L1785.68,439.65L1786.51,437.53L1787.33,435.41L1788.16,433.29L1788.99,431.17L1789.81,429.05L1790.64,426.93L1791.47,424.81L1792.29,422.69L1793.12,420.58L1793.94,418.47L1794.77,416.37L1795.6,414.27L1796.42,412.18L1797.25,410.1L1798.07,408.03L1798.9,405.97L1799.73,403.91L1800.55,401.87L1801.38,399.85L1802.21,397.83L1803.03,395.83L1803.86,393.84L1804.68,391.87L1805.51,389.92L1806.34,387.98L1807.16,386.06L1807.99,384.16L1808.81,382.28L1809.64,380.42L1810.47,378.59L1811.29,376.77L1812.12,374.97L1812.95,373.2L1813.77,371.46L1814.6,369.73L1815.42,368.04L1816.25,366.37L1817.08,364.72L1817.9,363.1L1818.73,361.52L1819.55,359.96L1820.38,358.42L1821.21,356.92L1822.03,355.45L1822.86,354.01L1823.69,352.6L1824.51,351.23L1825.34,349.88L1826.16,348.57L1826.99,347.3L1827.82,346.05L1828.64,344.85L1829.47,343.67L1830.29,342.54L1831.12,341.43L1831.95,340.37L1832.77,339.34L1833.6,338.35L1834.43,337.4L1835.25,336.48L1836.08,335.6L1836.9,334.76L1837.73,333.96L1838.56,333.2L1839.38,332.48L1840.21,331.8L1841.03,331.15L1841.86,330.55L1842.69,329.99L1843.51,329.47L1844.34,328.99L1845.17,328.55L1845.99,328.15L1846.82,327.79L1847.64,327.47L1848.47,327.2L1849.3,326.96L1850.12,326.77L1850.95,326.62L1851.77,326.51L1852.6,326.44L1853.43,326.41L1854.25,326.43L1855.08,326.48L1855.91,326.58L1856.73,326.72L1857.56,326.89L1858.38,327.11L1859.21,327.38L1860.04,327.68L1860.86,328.02L1861.69,328.4L1862.51,328.82L1863.34,329.29L1864.17,329.79L1864.99,330.33L1865.82,330.91L1866.65,331.53L1867.47,332.19L1868.3,332.89L1869.12,333.62L1869.95,334.4L1870.78,335.21L1871.6,336.05L1872.43,336.94L1873.25,337.86L1874.08,338.81L1874.91,339.81L1875.73,340.83L1876.56,341.89L1877.39,342.99L1878.21,344.12L1879.04,345.28L1879.86,346.48L1880.69,347.7L1881.52,348.96L1882.34,350.25L1883.17,351.57L1883.99,352.92L1884.82,354.3L1885.65,355.71L1886.47,357.15L1887.3,358.61L1888.13,360.11L1888.95,361.63L1889.78,363.17L1890.6,364.74L1891.43,366.34L1892.26,367.95L1893.08,369.6L1893.91,371.26L1894.73,372.95L1895.56,374.65L1896.39,376.38L1897.21,378.13L1898.04,379.9L1898.87,381.69L1899.69,383.49L1900.52,385.31L1901.34,387.15L1902.17,389L1903,390.87L1903.82,392.75L1904.65,394.65L1905.47,396.55L1906.3,398.47L1907.13,400.4L1907.95,402.34L1908.78,404.3L1909.61,406.26L1910.43,408.22L1911.26,410.2L1912.08,412.18L1912.91,414.17L1913.74,416.16L1914.56,418.16L1915.39,420.16L1916.21,422.16L1917.04,424.16L1917.87,426.17L1918.69,428.18L1919.52,430.18L1920.35,432.19L1921.17,434.19L1922,436.19L1922.82,438.19L1923.65,440.18L1924.48,442.16L1925.3,444.15L1926.13,446.12L1926.95,448.09L1927.78,450.05L1928.61,452L1929.43,453.94L1930.26,455.87L1931.09,457.8L1931.91,459.71L1932.74,461.6L1933.56,463.49L1934.39,465.36L1935.22,467.21L1936.04,469.05L1936.87,470.23L1937.69,469.34L1938.52,468.35L1939.35,467.28L1940.17,466.13L1941,464.91L1941.83,463.63L1942.65,462.29L1943.48,460.91L1944.3,459.48L1945.13,458.02L1945.96,456.53L1946.78,455.02L1947.61,453.49L1948.43,451.94L1949.26,450.39L1950.09,448.83L1950.91,447.27L1951.74,445.72L1952.57,444.17L1953.39,442.63L1954.22,441.1L1955.04,439.59L1955.87,438.1L1956.7,436.63L1957.52,435.18L1958.35,433.75L1959.17,432.36L1960,430.99L1960.83,429.65L1961.65,428.34L1962.48,427.07L1963.3,425.83L1964.13,424.63L1964.96,423.47L1965.78,422.35L1966.61,421.26L1967.44,420.22L1968.26,419.22L1969.09,418.26L1969.91,417.34L1970.74,416.47L1971.57,415.64L1972.39,414.86L1973.22,414.13L1974.04,413.44L1974.87,412.8L1975.7,412.2L1976.52,411.66L1977.35,411.16L1978.18,410.71L1979,410.31L1979.83,409.96L1980.65,409.66L1981.48,409.41L1982.31,409.21L1983.13,409.06L1983.96,408.96L1984.78,408.91L1985.61,408.91L1986.44,408.96L1987.26,409.05L1988.09,409.2L1988.92,409.4"/>
<path class="c" stroke="#000" stroke-width="4.7" d="M1080.15,403.49L1080.98,403.61L1081.8,403.75L1082.63,403.94L1083.45,404.16L1084.28,404.42L1085.11,404.72L1085.93,405.06L1086.76,405.43L1087.59,405.83L1088.41,406.28L1089.24,406.76L1090.06,407.28L1090.89,407.83L1091.72,408.42L1092.54,409.04L1093.37,409.71L1094.19,410.4L1095.02,411.14L1095.85,411.9L1096.67,412.71L1097.5,413.55L1098.33,414.42L1099.15,415.33L1099.98,416.27L1100.8,417.25L1101.63,418.26L1102.46,419.3L1103.28,420.38L1104.11,421.49L1104.93,422.63L1105.76,423.81L1106.59,425.01L1107.41,426.25L1108.24,427.52L1109.07,428.82L1109.89,430.15L1110.72,431.51L1111.54,432.9L1112.37,434.31L1113.2,435.76L1114.02,437.23L1114.85,438.73L1115.67,440.25L1116.5,441.79L1117.33,443.36L1118.15,444.96L1118.98,446.57L1119.81,448.2L1120.63,449.86L1121.46,451.53L1122.28,453.22L1123.11,454.92L1123.94,456.64L1124.76,458.37L1125.59,460.11L1126.41,461.87L1127.24,463.63L1128.07,465.39L1128.89,467.17L1129.72,468.94L1130.55,470.72L1131.37,472.49L1132.2,474.27L1133.02,476.04L1133.85,477.8L1134.68,479.56L1135.5,481.3L1136.33,483.03L1137.15,484.75L1137.98,486.45L1138.81,488.14L1139.63,489.8L1140.46,491.45L1141.29,493.07L1142.11,494.66L1142.94,496.23L1143.76,497.77L1144.59,499.27L1145.42,500.75L1146.24,502.2L1147.07,503.61L1147.89,504.98L1148.72,506.32L1149.55,507.63L1150.37,508.89L1151.2,510.12L1152.03,511.31L1152.85,512.46L1153.68,513.57L1154.5,514.64L1155.33,515.67L1156.16,516.67L1156.98,517.62L1157.81,518.53L1158.63,519.41L1159.46,520.25L1160.29,521.05L1161.11,521.81L1161.94,522.54L1162.77,523.24L1163.59,523.89L1164.42,524.52L1165.24,525.11L1166.07,525.67L1166.9,526.2L1167.72,526.7L1168.55,527.17L1169.37,527.62L1170.2,528.03L1171.03,528.42L1171.85,528.79L1172.68,529.13L1173.51,529.45L1174.33,529.75L1175.16,530.03L1175.98,530.29L1176.81,530.53L1177.64,530.75L1178.46,530.95L1179.29,531.14L1180.11,531.31L1180.94,531.47L1181.77,531.62L1182.59,531.75L1183.42,531.87L1184.24,531.98L1185.07,532.08L1185.9,532.17L1186.72,532.25L1187.55,532.33L1188.38,532.39L1189.2,532.45L1190.03,532.5L1190.85,532.55L1191.68,532.59L1192.51,532.62L1193.33,532.65L1194.16,532.68L1194.98,532.7L1195.81,532.72L1196.64,532.74L1197.46,532.75L1198.29,532.76L1199.12,532.77L1199.94,532.78L1200.77,532.78L1201.59,532.79L1202.42,532.79L1203.25,532.79L1204.07,532.8L1204.9,532.8L1205.72,532.8L1206.55,532.8L1207.38,532.8L1208.2,532.8L1209.03,532.8L1209.86,532.8L1210.68,532.8L1211.51,532.8L1212.33,532.8L1213.16,532.8L1213.99,532.8L1214.81,532.8L1215.64,532.8L1216.46,532.79L1217.29,532.79L1218.12,532.79L1218.94,532.78L1219.77,532.78L1220.6,532.77L1221.42,532.76L1222.25,532.75L1223.07,532.73L1223.9,532.72L1224.73,532.7L1225.55,532.68L1226.38,532.65L1227.2,532.62L1228.03,532.59L1228.86,532.55L1229.68,532.5L1230.51,532.45L1231.34,532.4L1232.16,532.33L1232.99,532.26L1233.81,532.19L1234.64,532.1L1235.47,532L1236.29,531.9L1237.12,531.78L1237.94,531.66L1238.77,531.52L1239.6,531.37L1240.42,531.21L1241.25,531.03L1242.08,530.84L1242.9,530.64L1243.73,530.42L1244.55,530.18L1245.38,529.93L1246.21,529.65L1247.03,529.36L1247.86,529.05L1248.68,528.72L1249.51,528.36L1250.34,527.98L1251.16,527.58L1251.99,527.16L1252.82,526.71L1253.64,526.24L1254.47,525.74L1255.29,525.21L1256.12,524.66L1256.95,524.07L1257.77,523.46L1258.6,522.82L1259.42,522.15L1260.25,521.44L1261.08,520.71L1261.9,519.95L1262.73,519.15L1263.56,518.32L1264.38,517.46L1265.21,516.57L1266.03,515.64L1266.86,514.68L1267.69,513.69L1268.51,512.67L1269.34,511.62L1270.16,510.54L1270.99,509.43L1271.82,508.29L1272.64,507.12L1273.47,505.92L1274.3,504.7L1275.12,503.45L1275.95,502.18L1276.77,500.89L1277.6,499.57L1278.43,498.23L1279.25,496.88L1280.08,495.51L1280.9,494.12L1281.73,492.72L1282.56,491.31L1283.38,489.88L1284.21,488.45L1285.04,487.01L1285.86,485.56L1286.69,484.11L1287.51,482.66L1288.34,481.21L1289.17,479.76L1289.99,478.31L1290.82,476.87L1291.64,475.43L1292.47,473.99L1293.3,472.57L1294.12,471.16L1294.95,469.75L1295.78,468.36L1296.6,466.99L1297.43,465.63L1298.25,464.28L1299.08,462.95L1299.91,461.64L1300.73,460.35L1301.56,459.08L1302.38,457.83L1303.21,456.6L1304.04,455.4L1304.86,454.21L1305.69,453.05L1306.52,451.92L1307.34,450.81L1308.17,449.72L1308.99,448.67L1309.82,447.64L1310.65,446.63L1311.47,445.66L1312.3,444.71L1313.12,443.79L1313.95,442.9L1314.78,442.03L1315.6,441.2L1316.43,440.4L1317.26,439.62L1318.08,438.88L1318.91,438.17L1319.73,437.49L1320.56,436.83L1321.39,436.21L1322.21,435.62L1323.04,435.06L1323.86,434.53L1324.69,434.04L1325.52,433.57L1326.34,433.14L1327.17,432.74L1328,432.36L1328.82,432.02L1329.65,431.72L1330.47,431.44L1331.3,431.2L1332.13,430.98L1332.95,430.8L1333.78,430.65L1334.6,430.54L1335.43,430.45L1336.26,430.39L1337.08,430.37L1337.91,430.38L1338.74,430.42L1339.56,430.49L1340.39,430.6L1341.21,430.73L1342.04,430.9L1342.87,431.09L1343.69,431.32L1344.52,431.58L1345.34,431.87L1346.17,432.19L1347,432.55L1347.82,432.93L1348.65,433.34L1349.48,433.79L1350.3,434.26L1351.13,434.77L1351.95,435.3L1352.78,435.86L1353.61,436.46L1354.43,437.08L1355.26,437.73L1356.08,438.41L1356.91,439.12L1357.74,439.86L1358.56,440.63L1359.39,441.43L1360.22,442.25L1361.04,443.1L1361.87,443.98L1362.69,444.88L1363.52,445.81L1364.35,446.77L1365.17,447.75L1366,448.76L1366.82,449.79L1367.65,450.85L1368.48,451.93L1369.3,453.03L1370.13,454.16L1370.96,455.31L1371.78,456.48L1372.61,457.67L1373.43,458.88L1374.26,460.11L1375.09,461.36L1375.91,462.63L1376.74,463.91L1377.56,465.21L1378.39,466.53L1379.22,467.86L1380.04,469.2L1380.87,470.55L1381.69,471.92L1382.52,473.29L1383.35,474.68L1384.17,476.07L1385,477.47L1385.83,478.87L1386.65,480.27L1387.48,481.68L1388.3,483.09L1389.13,484.5L1389.96,485.9L1390.78,487.31L1391.61,488.7L1392.43,490.09L1393.26,491.48L1394.09,492.85L1394.91,494.21L1395.74,495.56L1396.57,496.89L1397.39,498.21L1398.22,499.52L1399.04,500.8L1399.87,502.06L1400.7,503.31L1401.52,504.53L1402.35,505.73L1403.17,506.9L1404,508.05L1404.83,509.17L1405.65,510.26L1406.48,511.33L1407.31,512.36L1408.13,513.37L1408.96,514.35L1409.78,515.3L1410.61,516.22L1411.44,517.1L1412.26,517.96L1413.09,518.78L1413.91,519.58L1414.74,520.34L1415.57,521.08L1416.39,521.78L1417.22,522.46L1418.05,523.1L1418.87,523.72L1419.7,524.3L1420.52,524.86L1421.35,525.4L1422.18,525.9L1423,526.38L1423.83,526.84L1424.65,527.27L1425.48,527.68L1426.31,528.06L1427.13,528.42L1427.96,528.77L1428.79,529.09L1429.61,529.39L1430.44,529.67L1431.26,529.93L1432.09,530.18L1432.92,530.41L1433.74,530.63L1434.57,530.83L1435.39,531.01L1436.22,531.18L1437.05,531.34L1437.87,531.49L1438.7,531.62L1439.53,531.75L1440.35,531.86L1441.18,531.96L1442,532.06L1442.83,532.15L1443.66,532.22L1444.48,532.3L1445.31,532.36L1446.13,532.42L1446.96,532.47L1447.79,532.51L1448.61,532.56L1449.44,532.59L1450.27,532.62L1451.09,532.65L1451.92,532.68L1452.74,532.7L1453.57,532.72L1454.4,532.73L1455.22,532.74L1456.05,532.76L1456.87,532.77L1457.7,532.77L1458.53,532.78L1459.35,532.78L1460.18,532.79L1461.01,532.79L1461.83,532.79L1462.66,532.8L1463.48,532.8L1464.31,532.8L1465.14,532.8L1465.96,532.8L1466.79,532.8L1467.61,532.8L1468.44,532.8L1469.27,532.8L1470.09,532.8L1470.92,532.8L1471.75,532.8L1472.57,532.8L1473.4,532.8L1474.22,532.8L1475.05,532.8L1475.88,532.79L1476.7,532.79L1477.53,532.79L1478.35,532.79L1479.18,532.78L1480.01,532.77L1480.83,532.77L1481.66,532.76L1482.49,532.75L1483.31,532.74L1484.14,532.72L1484.96,532.7L1485.79,532.68L1486.62,532.66L1487.44,532.64L1488.27,532.61L1489.09,532.57L1489.92,532.54L1490.75,532.49L1491.57,532.45L1492.4,532.39L1493.23,532.33L1494.05,532.27L1494.88,532.2L1495.7,532.12L1496.53,532.03L1497.36,531.94L1498.18,531.84L1499.01,531.72L1499.83,531.6L1500.66,531.47L1501.49,531.33L1502.31,531.17L1503.14,531.01L1503.97,530.83L1504.79,530.64L1505.62,530.44L1506.44,530.22L1507.27,529.98L1508.1,529.74L1508.92,529.47L1509.75,529.19L1510.57,528.89L1511.4,528.57L1512.23,528.24L1513.05,527.88L1513.88,527.51L1514.71,527.11L1515.53,526.7L1516.36,526.26L1517.18,525.8L1518.01,525.32L1518.84,524.81L1519.66,524.28L1520.49,523.73L1521.31,523.16L1522.14,522.56L1522.97,521.93L1523.79,521.28L1524.62,520.61L1525.45,519.91L1526.27,519.19L1527.1,518.44L1527.92,517.66L1528.75,516.87L1529.58,516.05L1530.4,515.2L1531.23,514.33L1532.05,513.44L1532.88,512.53L1533.71,511.6L1534.53,510.64L1535.36,509.67L1536.19,508.68L1537.01,507.67L1537.84,506.64L1538.66,505.6L1539.49,504.54L1540.32,503.47L1541.14,502.39L1541.97,501.3L1542.79,500.19L1543.62,499.08L1544.45,497.96L1545.27,496.84L1546.1,495.71L1546.93,494.58L1547.75,493.44L1548.58,492.31L1549.4,491.17L1550.23,490.04L1551.06,488.91L1551.88,487.78L1552.71,486.66L1553.53,485.54L1554.36,484.44L1555.19,483.34L1556.01,482.25L1556.84,481.17L1557.67,480.1L1558.49,479.05L1559.32,478L1560.14,476.98L1560.97,475.96L1561.8,474.96L1562.62,473.98L1563.45,473.02L1564.27,472.07L1565.1,471.14L1565.93,470.23L1566.75,469.34L1567.58,468.47L1568.4,467.62L1569.23,466.79L1570.06,465.98L1570.88,465.19L1571.71,464.43L1572.54,463.69L1573.36,462.97L1574.19,462.27L1575.01,461.6L1575.84,460.95L1576.67,460.33L1577.49,459.73L1578.32,459.15L1579.14,458.6L1579.97,458.07L1580.8,457.57L1581.62,457.09L1582.45,456.64L1583.28,456.21L1584.1,455.81L1584.93,455.44L1585.75,455.09L1586.58,454.76L1587.41,454.46L1588.23,454.19L1589.06,453.95L1589.88,453.73L1590.71,453.53L1591.54,453.36L1592.36,453.22L1593.19,453.11L1594.02,453.02L1594.84,452.95L1595.67,452.91L1596.49,452.9L1597.32,452.92L1598.15,452.96L1598.97,453.02L1599.8,453.12L1600.62,453.24L1601.45,453.38L1602.28,453.55L1603.1,453.74L1603.93,453.97L1604.76,454.21L1605.58,454.48L1606.41,454.78L1607.23,455.1L1608.06,455.45L1608.89,455.82L1609.71,456.22L1610.54,456.64L1611.36,457.08L1612.19,457.55L1613.02,458.05L1613.84,458.56L1614.67,459.11L1615.5,459.67L1616.32,460.26L1617.15,460.87L1617.97,461.5L1618.8,462.16L1619.63,462.83L1620.45,463.53L1621.28,464.25L1622.1,464.99L1622.93,465.76L1623.76,466.54L1624.58,467.34L1625.41,468.16L1626.24,469L1627.06,469.86L1627.89,470.74L1628.71,471.64L1629.54,472.55L1630.37,473.48L1631.19,474.42L1632.02,475.39L1632.84,476.36L1633.67,477.35L1634.5,478.35L1635.32,479.37L1636.15,480.39L1636.98,481.43L1637.8,482.48L1638.63,483.54L1639.45,484.61L1640.28,485.68L1641.11,486.76L1641.93,487.85L1642.76,488.94L1643.58,490.04L1644.41,491.13L1645.24,492.24L1646.06,493.34L1646.89,494.44L1647.72,495.54L1648.54,496.63L1649.37,497.72L1650.19,498.81L1651.02,499.89L1651.85,500.97L1652.67,502.03L1653.5,503.09L1654.32,504.13L1655.15,505.17L1655.98,506.19L1656.8,507.2L1657.63,508.19L1658.46,509.16L1659.28,510.12L1660.11,511.06L1660.93,511.99L1661.76,512.89L1662.59,513.77L1663.41,514.64L1664.24,515.48L1665.06,516.29L1665.89,517.09L1666.72,517.87L1667.54,518.62L1668.37,519.34L1669.2,520.05L1670.02,520.73L1670.85,521.38L1671.67,522.02L1672.5,522.62L1673.33,523.21L1674.15,523.77L1674.98,524.31L1675.8,524.83L1676.63,525.32L1677.46,525.79L1678.28,526.24L1679.11,526.67L1679.94,527.08L1680.76,527.47L1681.59,527.84L1682.41,528.19L1683.24,528.52L1684.07,528.83L1684.89,529.12L1685.72,529.4L1686.54,529.66L1687.37,529.91L1688.2,530.14L1689.02,530.36L1689.85,530.56L1690.68,530.75L1691.5,530.93L1692.33,531.1L1693.15,531.25L1693.98,531.39L1694.81,531.53L1695.63,531.65L1696.46,531.76L1697.28,531.87L1698.11,531.97L1698.94,532.05L1699.76,532.13L1700.59,532.21L1701.42,532.28L1702.24,532.34L1703.07,532.39L1703.89,532.44L1704.72,532.49L1705.55,532.53L1706.37,532.57L1707.2,532.6L1708.02,532.63L1708.85,532.65L1709.68,532.68L1710.5,532.7L1711.33,532.71L1712.16,532.73L1712.98,532.74L1713.81,532.75L1714.63,532.76L1715.46,532.77L1716.29,532.78L1717.11,532.78L1717.94,532.79L1718.76,532.79L1719.59,532.79L1720.42,532.79L1721.24,532.8L1722.07,532.8L1722.9,532.8L1723.72,532.8L1724.55,532.8L1725.37,532.8L1726.2,532.8L1727.03,532.8L1727.85,532.8L1728.68,532.8L1729.5,532.8L1730.33,532.8L1731.16,532.8L1731.98,532.8L1732.81,532.8L1733.64,532.8L1734.46,532.8L1735.29,532.8L1736.11,532.79L1736.94,532.79L1737.77,532.79L1738.59,532.78L1739.42,532.78L1740.24,532.77L1741.07,532.77L1741.9,532.76L1742.72,532.75L1743.55,532.74L1744.38,532.73L1745.2,532.71L1746.03,532.69L1746.85,532.67L1747.68,532.65L1748.51,532.63L1749.33,532.6L1750.16,532.57L1750.98,532.53L1751.81,532.49L1752.64,532.45L1753.46,532.4L1754.29,532.34L1755.12,532.28L1755.94,532.22L1756.77,532.15L1757.59,532.07L1758.42,531.99L1759.25,531.9L1760.07,531.8L1760.9,531.69L1761.72,531.58L1762.55,531.45L1763.38,531.32L1764.2,531.18L1765.03,531.03L1765.85,530.86L1766.68,530.69L1767.51,530.5L1768.33,530.3L1769.16,530.09L1769.99,529.87L1770.81,529.63L1771.64,529.38L1772.46,529.12L1773.29,528.84L1774.12,528.54L1774.94,528.23L1775.77,527.9L1776.59,527.56L1777.42,527.2L1778.25,526.82L1779.07,526.43L1779.9,526.01L1780.73,525.58L1781.55,525.13L1782.38,524.66L1783.2,524.18L1784.03,523.67L1784.86,523.14L1785.68,522.6L1786.51,522.04L1787.33,521.45L1788.16,520.85L1788.99,520.24L1789.81,519.6L1790.64,518.94L1791.47,518.27L1792.29,517.58L1793.12,516.87L1793.94,516.15L1794.77,515.41L1795.6,514.66L1796.42,513.89L1797.25,513.11L1798.07,512.32L1798.9,511.51L1799.73,510.7L1800.55,509.87L1801.38,509.03L1802.21,508.19L1803.03,507.34L1803.86,506.48L1804.68,505.62L1805.51,504.75L1806.34,503.88L1807.16,503L1807.99,502.13L1808.81,501.25L1809.64,500.38L1810.47,499.5L1811.29,498.63L1812.12,497.76L1812.95,496.9L1813.77,496.04L1814.6,495.18L1815.42,494.33L1816.25,493.49L1817.08,492.66L1817.9,491.84L1818.73,491.02L1819.55,490.22L1820.38,489.42L1821.21,488.64L1822.03,487.87L1822.86,487.11L1823.69,486.37L1824.51,485.64L1825.34,484.92L1826.16,484.22L1826.99,483.54L1827.82,482.87L1828.64,482.21L1829.47,481.58L1830.29,480.95L1831.12,480.35L1831.95,479.76L1832.77,479.2L1833.6,478.64L1834.43,478.11L1835.25,477.6L1836.08,477.1L1836.9,476.63L1837.73,476.17L1838.56,475.74L1839.38,475.32L1840.21,474.92L1841.03,474.54L1841.86,474.19L1842.69,473.85L1843.51,473.53L1844.34,473.24L1845.17,472.96L1845.99,472.71L1846.82,472.47L1847.64,472.26L1848.47,472.07L1849.3,471.9L1850.12,471.75L1850.95,471.62L1851.77,471.51L1852.6,471.42L1853.43,471.35L1854.25,471.31L1855.08,471.28L1855.91,471.28L1856.73,471.3L1857.56,471.34L1858.38,471.4L1859.21,471.48L1860.04,471.58L1860.86,471.7L1861.69,471.84L1862.51,472.01L1863.34,472.19L1864.17,472.39L1864.99,472.62L1865.82,472.86L1866.65,473.13L1867.47,473.41L1868.3,473.72L1869.12,474.04L1869.95,474.38L1870.78,474.75L1871.6,475.13L1872.43,475.53L1873.25,475.95L1874.08,476.39L1874.91,476.85L1875.73,477.32L1876.56,477.82L1877.39,478.33L1878.21,478.85L1879.04,479.4L1879.86,479.96L1880.69,480.54L1881.52,481.14L1882.34,481.75L1883.17,482.37L1883.99,483.02L1884.82,483.67L1885.65,484.34L1886.47,485.03L1887.3,485.73L1888.13,486.44L1888.95,487.16L1889.78,487.9L1890.6,488.65L1891.43,489.41L1892.26,490.18L1893.08,490.96L1893.91,491.74L1894.73,492.54L1895.56,493.35L1896.39,494.16L1897.21,494.98L1898.04,495.81L1898.87,496.64L1899.69,497.48L1900.52,498.32L1901.34,499.17L1902.17,500.01L1903,500.86L1903.82,501.71L1904.65,502.56L1905.47,503.41L1906.3,504.25L1907.13,505.1L1907.95,505.94L1908.78,506.77L1909.61,507.6L1910.43,508.43L1911.26,509.25L1912.08,510.06L1912.91,510.86L1913.74,511.65L1914.56,512.43L1915.39,513.2L1916.21,513.96L1917.04,514.71L1917.87,515.44L1918.69,516.16L1919.52,516.87L1920.35,517.56L1921.17,518.23L1922,518.89L1922.82,519.53L1923.65,520.16L1924.48,520.77L1925.3,521.36L1926.13,521.93L1926.95,522.48L1927.78,523.02L1928.61,523.54L1929.43,524.04L1930.26,524.52L1931.09,524.99L1931.91,525.43L1932.74,525.86L1933.56,526.27L1934.39,526.67L1935.22,527.05L1936.04,527.41L1936.87,527.75L1937.69,528.08L1938.52,528.39L1939.35,528.68L1940.17,528.97L1941,529.23L1941.83,529.49L1942.65,529.73L1943.48,529.95L1944.3,530.17L1945.13,530.37L1945.96,530.56L1946.78,530.73L1947.61,530.9L1948.43,531.06L1949.26,531.2L1950.09,531.34L1950.91,531.47L1951.74,531.59L1952.57,531.7L1953.39,531.8L1954.22,531.89L1955.04,531.98L1955.87,532.06L1956.7,532.14L1957.52,532.21L1958.35,532.27L1959.17,532.33L1960,532.38L1960.83,532.43L1961.65,532.47L1962.48,532.51L1963.3,532.55L1964.13,532.58L1964.96,532.61L1965.78,532.64L1966.61,532.66L1967.44,532.68L1968.26,532.7L1969.09,532.71L1969.91,532.73L1970.74,532.74L1971.57,532.75L1972.39,532.76L1973.22,532.77L1974.04,532.77L1974.87,532.78L1975.7,532.78L1976.52,532.79L1977.35,532.79L1978.18,532.79L1979,532.79L1979.83,532.8L1980.65,532.8L1981.48,532.8L1982.31,532.8L1983.13,532.8L1983.96,532.8L1984.78,532.8L1985.61,532.8L1986.44,532.8L1987.26,532.8L1988.09,532.8L1988.92,532.8"/>
<path class="c" stroke="#f00" stroke-width="4.8" d="M1080.15,346.25L1080.15,346.25M1080.15,346.25L1080.64,347.34M1084.54,356.09L1085.11,357.35M1090.06,368.16L1090.53,369.15M1094.66,377.79L1095.02,378.52M1095.02,378.52L1095.19,378.86M1099.51,387.41L1099.98,388.3M1105.76,398.79L1106.46,399.98M1111.53,408.1L1111.54,408.11M1111.54,408.11L1112.2,409.09M1117.89,416.79L1118.15,417.12M1127.24,426.3L1128.03,426.91M1136.4,431.48L1137.15,431.72M1137.15,431.72L1137.55,431.83M1146.05,434.44L1146.24,434.81M1152.03,446.08L1152.62,447.21M1157.13,455.66L1157.71,456.71M1162.41,465.05L1162.77,465.65M1169.37,476.35L1169.98,477.26M1175.52,485.07L1175.98,485.68M1175.98,485.68L1176.25,486.02M1182.47,493.29L1182.59,493.42M1193.33,502.13L1193.61,502.28M1202.59,505.45L1203.25,505.53M1203.25,505.53L1203.78,505.58M1213.2,504.33L1213.99,504.04M1224.73,497.32L1225.32,496.79M1232.05,489.99L1232.16,489.86M1232.16,489.86L1232.83,489.08M1238.76,481.56L1238.77,481.54M1246.21,470.56L1246.78,469.65M1247.86,467.92L1247.86,467.92M1247.86,467.92L1248.49,466.9M1253.38,458.67L1253.64,458.22M1260.25,446.43L1260.41,446.14M1264.96,437.72L1265.21,437.26M1265.21,437.26L1265.53,436.67M1270.03,428.21L1270.16,427.97M1279.25,419.05L1279.44,418.99M1288.04,414.87L1288.34,414.68M1288.34,414.68L1289.04,414.2M1296.42,408.11L1296.6,407.94M1305.69,397.88L1306.03,397.45M1311.8,389.81L1312.3,389.11M1312.3,389.11L1312.5,388.84M1317.9,380.93L1318.08,380.66M1325.52,369L1325.63,368.82M1330.63,360.65L1331.25,359.63M1336.2,351.43L1336.26,351.33M1343.69,353.4L1343.96,353.83M1349.05,361.95L1349.48,362.62M1349.48,362.62L1349.69,362.96M1354.96,370.95L1355.26,371.4M1362.69,381.76L1363.35,382.61M1369.43,390.01L1370.13,390.8M1370.13,390.8L1370.23,390.9M1376.96,397.7L1377.56,398.24M1388.3,405.77L1388.67,405.95M1397.72,408.97L1398.22,409.05M1398.22,409.05L1398.9,409.14M1406.71,412.82L1407.31,413.67M1414.74,424.08L1415.06,424.51M1420.86,432.13L1421.35,432.75M1421.35,432.75L1421.6,433.07M1427.75,440.41L1427.96,440.65M1437.05,449.87L1437.86,450.59M1445.47,456.39L1446.13,456.82M1446.13,456.82L1446.48,457.03M1455.12,461.13L1455.22,461.17M1469.27,462.4L1469.29,462.4M1478.42,459.6L1479.18,459.25M1479.18,459.25L1479.5,459.09M1487.65,454.09L1488.27,453.63M1494.05,448.83L1494.88,448.07M1494.88,448.07L1494.88,448.07M1495.7,447.3L1495.75,447.25M1502.44,440.4L1503.14,439.63M1511.4,429.86L1511.73,429.45M1517.6,421.88L1518.01,421.34M1518.01,421.34L1518.32,420.93M1524.03,413.24L1524.62,412.44M1532.05,402.24L1532.5,401.63M1541.2,398.73L1541.97,398.49M1541.97,398.49L1542.34,398.37M1551.03,394.38L1551.06,394.37M1562.62,385.96L1562.64,385.95M1569.64,379.42L1570.06,379.01M1570.06,379.01L1570.49,378.58M1577.06,371.61L1577.49,371.13M1585.75,361.62L1586.48,360.76M1592.6,353.4L1593.19,352.69M1593.19,352.69L1593.36,352.48M1599.76,347.76L1599.8,347.8M1608.89,358.48L1609.07,358.69M1615.52,365.78L1616.32,366.62M1616.32,366.62L1616.34,366.64M1623.14,373.39L1623.76,373.97M1633.67,382.14L1634.21,382.53M1642.38,387.5L1642.76,387.68M1642.76,387.68L1643.46,388.03M1652.45,391.27L1652.67,391.33M1665.06,394.03L1665.7,394.69M1672.37,401.57L1672.5,401.7M1672.5,401.7L1673.21,402.41M1680.1,409.06L1680.76,409.67M1690.68,418.03L1691.07,418.33M1698.99,423.7L1699.76,424.16M1699.76,424.16L1700.03,424.31M1708.65,428.44L1708.85,428.52M1722.07,431.33L1722.65,431.35M1732.17,430.54L1732.81,430.4M1732.81,430.4L1733.34,430.28M1741.9,427.44L1741.9,427.44M1742.72,427.08L1742.99,426.95M1751.4,422.39L1751.81,422.13M1762.55,414.3L1763,413.93M1770.24,407.66L1770.81,407.13M1770.81,407.13L1771.12,406.85M1778.07,400.26L1778.25,400.09M1788.16,390.25L1788.27,390.14M1796.01,385.34L1796.42,385.29M1796.42,385.29L1797.2,385.18M1806.48,382.86L1807.16,382.62M1818.73,377.13L1819.43,376.71M1827.45,371.48L1827.82,371.22M1827.82,371.22L1828.42,370.78M1836.02,364.96L1836.08,364.91M1846.82,355.84L1846.99,355.69M1854.18,349.35L1854.25,349.29L1855.07,348.56M1862.37,350.35L1862.51,350.47M1873.25,359.39L1873.42,359.52M1881.1,365.24L1881.52,365.53M1881.52,365.53L1882.09,365.93M1890.19,371.02L1890.6,371.26M1903,376.9L1903.24,376.98M1912.52,379.3L1912.91,379.36M1912.91,379.36L1913.7,379.47M1923.16,380.32L1923.65,380.7M1934.39,388.74L1934.66,388.93M1942.57,394.32L1942.65,394.37M1943.48,394.9L1943.58,394.97M1951.85,399.79L1952.57,400.16M1964.96,405.44L1965.03,405.46M1974.32,407.73L1974.87,407.82M1974.87,407.82L1975.51,407.91M1985.06,408.42L1985.61,408.4M1988.09,408.23L1988.92,408.15"/>
<path class="r" stroke="#f00" stroke-width="4.8" d="M1080.14,346.25h0.01M1085.11,357.35L1085.93,359.18L1086.76,360.99L1087.59,362.8L1088.41,364.6L1089.24,366.38L1090.06,368.16M1095.02,378.52h0.01M1099.98,388.3L1100.8,389.86L1101.63,391.41L1102.46,392.93L1103.28,394.43L1104.11,395.9L1104.93,397.36L1105.76,398.79M1111.54,408.11h0.01M1118.15,417.12L1118.98,418.11L1119.81,419.07L1120.63,420L1121.46,420.9L1122.28,421.77L1123.11,422.61L1123.94,423.41L1124.76,424.18L1125.59,424.92L1126.41,425.63L1127.24,426.3M1137.15,431.72h0.01M1146.24,434.81L1147.07,436.44L1147.89,438.06L1148.72,439.68L1149.55,441.29L1150.37,442.89L1151.2,444.49L1152.03,446.08M1162.77,465.65L1163.59,467.05L1164.42,468.44L1165.24,469.81L1166.07,471.15L1166.9,472.48L1167.72,473.79L1168.55,475.08L1169.37,476.35M1175.98,485.68h0.01M1182.59,493.42L1183.42,494.27L1184.24,495.08L1185.07,495.87L1185.9,496.63L1186.72,497.36L1187.55,498.06L1188.38,498.74L1189.2,499.38L1190.03,499.99L1190.85,500.57L1191.68,501.12L1192.51,501.64L1193.33,502.13M1203.24,505.53h0.01M1213.99,504.04L1214.81,503.7L1215.64,503.33L1216.46,502.94L1217.29,502.51L1218.12,502.05L1218.94,501.56L1219.77,501.04L1220.6,500.49L1221.42,499.92L1222.25,499.31L1223.07,498.67L1223.9,498.01L1224.73,497.32M1232.16,489.86h0.01M1238.77,481.54L1239.6,480.4L1240.42,479.24L1241.25,478.06L1242.08,476.85L1242.9,475.63L1243.73,474.39L1244.55,473.13L1245.38,471.86L1246.21,470.56M1247.85,467.92h0.01M1253.64,458.22L1254.47,456.78L1255.29,455.33L1256.12,453.87L1256.95,452.4L1257.77,450.92L1258.6,449.43L1259.42,447.94L1260.25,446.43M1265.2,437.26h0.01M1270.16,427.97L1270.99,426.41L1271.82,424.86L1272.64,423.31L1273.47,421.76L1274.3,420.21L1275.12,419.91L1275.95,419.79L1276.77,419.65L1277.6,419.48L1278.43,419.28L1279.25,419.05M1288.33,414.68h0.01M1296.6,407.94L1297.43,407.13L1298.25,406.3L1299.08,405.45L1299.91,404.58L1300.73,403.68L1301.56,402.77L1302.38,401.83L1303.21,400.87L1304.04,399.89L1304.86,398.9L1305.69,397.88M1312.29,389.11h0.01M1318.08,380.66L1318.91,379.4L1319.73,378.13L1320.56,376.85L1321.39,375.56L1322.21,374.27L1323.04,372.96L1323.86,371.65L1324.69,370.32L1325.52,369M1336.26,351.33L1337.08,349.96L1337.91,348.6L1338.74,347.23L1339.56,346.63L1340.39,347.99L1341.21,349.35L1342.04,350.7L1342.87,352.05L1343.69,353.4M1349.47,362.62h0.01M1355.26,371.4L1356.08,372.6L1356.91,373.8L1357.74,374.98L1358.56,376.15L1359.39,377.3L1360.22,378.44L1361.04,379.56L1361.87,380.67L1362.69,381.76M1370.12,390.8h0.01M1377.56,398.24L1378.39,398.96L1379.22,399.66L1380.04,400.33L1380.87,400.98L1381.69,401.61L1382.52,402.21L1383.35,402.79L1384.17,403.35L1385,403.88L1385.83,404.39L1386.65,404.88L1387.48,405.34L1388.3,405.77M1398.21,409.05h0.01M1407.31,413.67L1408.13,414.85L1408.96,416.03L1409.78,417.2L1410.61,418.36L1411.44,419.52L1412.26,420.67L1413.09,421.82L1413.91,422.95L1414.74,424.08M1421.35,432.75h0.01M1427.96,440.65L1428.79,441.57L1429.61,442.48L1430.44,443.37L1431.26,444.24L1432.09,445.1L1432.92,445.94L1433.74,446.76L1434.57,447.57L1435.39,448.36L1436.22,449.12L1437.05,449.87M1446.13,456.82h0.01M1455.22,461.17L1456.05,461.43L1456.87,461.66L1457.7,461.87L1458.53,462.06L1459.35,462.23L1460.18,462.37L1461.01,462.49L1461.83,462.59L1462.66,462.66L1463.48,462.71L1464.31,462.74L1465.14,462.74L1465.96,462.72L1466.79,462.67L1467.61,462.6L1468.44,462.51L1469.27,462.4M1479.18,459.25h0.01M1488.27,453.63L1489.09,453L1489.92,452.35L1490.75,451.68L1491.57,450.99L1492.4,450.29L1493.23,449.57L1494.05,448.83M1494.88,448.07L1495.7,447.3M1503.14,439.63L1503.97,438.71L1504.79,437.77L1505.62,436.82L1506.44,435.86L1507.27,434.89L1508.1,433.9L1508.92,432.91L1509.75,431.9L1510.57,430.88L1511.4,429.86M1518,421.34h0.01M1524.62,412.44L1525.45,411.31L1526.27,410.18L1527.1,409.05L1527.92,407.91L1528.75,406.78L1529.58,405.64L1530.4,404.51L1531.23,403.37L1532.05,402.24M1541.96,398.49h0.01M1551.06,394.37L1551.88,393.88L1552.71,393.37L1553.53,392.84L1554.36,392.3L1555.19,391.74L1556.01,391.16L1556.84,390.57L1557.67,389.96L1558.49,389.33L1559.32,388.69L1560.14,388.03L1560.97,387.36L1561.8,386.67L1562.62,385.96M1570.05,379.01h0.01M1577.49,371.13L1578.32,370.21L1579.14,369.28L1579.97,368.35L1580.8,367.4L1581.62,366.45L1582.45,365.5L1583.28,364.54L1584.1,363.57L1584.93,362.6L1585.75,361.62M1593.18,352.69h0.01M1599.8,347.8L1600.62,348.79L1601.45,349.78L1602.28,350.77L1603.1,351.75L1603.93,352.72L1604.76,353.7L1605.58,354.66L1606.41,355.63L1607.23,356.58L1608.06,357.53L1608.89,358.48M1616.32,366.62h0.01M1623.76,373.97L1624.58,374.73L1625.41,375.47L1626.24,376.2L1627.06,376.92L1627.89,377.62L1628.71,378.31L1629.54,378.99L1630.37,379.65L1631.19,380.3L1632.02,380.93L1632.84,381.54L1633.67,382.14M1642.75,387.68h0.01M1652.67,391.33L1653.5,391.51L1654.32,391.68L1655.15,391.83L1655.98,391.96L1656.8,392.07L1657.63,392.16L1658.46,392.24L1659.28,392.29L1660.11,392.33L1660.93,392.35L1661.76,392.35L1662.59,392.33L1663.41,392.29L1664.24,393.16L1665.06,394.03M1672.49,401.7h0.01M1680.76,409.67L1681.59,410.43L1682.41,411.17L1683.24,411.9L1684.07,412.63L1684.89,413.34L1685.72,414.05L1686.54,414.74L1687.37,415.42L1688.2,416.09L1689.02,416.75L1689.85,417.4L1690.68,418.03M1699.76,424.16h0.01M1708.85,428.52L1709.68,428.82L1710.5,429.1L1711.33,429.37L1712.16,429.62L1712.98,429.86L1713.81,430.08L1714.63,430.28L1715.46,430.46L1716.29,430.63L1717.11,430.78L1717.94,430.91L1718.76,431.03L1719.59,431.13L1720.42,431.21L1721.24,431.28L1722.07,431.33M1732.8,430.4h0.01M1741.9,427.44L1742.72,427.08M1751.81,422.13L1752.64,421.6L1753.46,421.05L1754.29,420.5L1755.12,419.93L1755.94,419.35L1756.77,418.75L1757.59,418.15L1758.42,417.53L1759.25,416.91L1760.07,416.27L1760.9,415.62L1761.72,414.96L1762.55,414.3M1770.81,407.13h0.01M1778.25,400.09L1779.07,399.29L1779.9,398.48L1780.73,397.67L1781.55,396.85L1782.38,396.03L1783.2,395.21L1784.03,394.39L1784.86,393.56L1785.68,392.73L1786.51,391.91L1787.33,391.08L1788.16,390.25M1796.42,385.29h0.01M1807.16,382.62L1807.99,382.31L1808.81,381.99L1809.64,381.66L1810.47,381.31L1811.29,380.95L1812.12,380.58L1812.95,380.19L1813.77,379.79L1814.6,379.37L1815.42,378.95L1816.25,378.51L1817.08,378.06L1817.9,377.6L1818.73,377.13M1827.81,371.22h0.01M1836.08,364.91L1836.9,364.25L1837.73,363.57L1838.56,362.89L1839.38,362.2L1840.21,361.51L1841.03,360.82L1841.86,360.12L1842.69,359.41L1843.51,358.71L1844.34,358L1845.17,357.28L1845.99,356.56L1846.82,355.84M1862.51,350.47L1863.34,351.18L1864.17,351.89L1864.99,352.6L1865.82,353.3L1866.65,354L1867.47,354.69L1868.3,355.38L1869.12,356.06L1869.95,356.74L1870.78,357.41L1871.6,358.08L1872.43,358.74L1873.25,359.39M1881.51,365.53h0.01M1890.6,371.26L1891.43,371.72L1892.26,372.16L1893.08,372.6L1893.91,373.02L1894.73,373.44L1895.56,373.84L1896.39,374.23L1897.21,374.61L1898.04,374.97L1898.87,375.32L1899.69,375.66L1900.52,375.99L1901.34,376.31L1902.17,376.61L1903,376.9M1912.9,379.36h0.01M1923.65,380.7L1924.48,381.34L1925.3,381.97L1926.13,382.61L1926.95,383.23L1927.78,383.86L1928.61,384.48L1929.43,385.1L1930.26,385.72L1931.09,386.33L1931.91,386.94L1932.74,387.54L1933.56,388.14L1934.39,388.74M1942.65,394.37L1943.48,394.9M1952.57,400.16L1953.39,400.59L1954.22,401L1955.04,401.41L1955.87,401.8L1956.7,402.19L1957.52,402.56L1958.35,402.92L1959.17,403.28L1960,403.62L1960.83,403.95L1961.65,404.27L1962.48,404.58L1963.3,404.88L1964.13,405.17L1964.96,405.44M1974.87,407.82h0.01M1985.61,408.4L1986.44,408.35L1987.26,408.3L1988.09,408.23"/>
<path class="c" stroke="#0f0" stroke-width="4.8" d="M1080.15,346.25L1080.15,346.25M1093.37,350.91L1093.47,350.98M1103.89,360.82L1104.11,361.07M1112.37,372.18L1112.47,372.33M1120.03,384.54L1120.63,385.58M1126.41,396.01L1127,397.1M1133.64,409.84L1133.85,410.25M1139.63,421.69L1140.12,422.66M1146.59,435.49L1147.07,436.44M1152.85,447.66L1153.17,448.26M1160.03,460.88L1160.29,461.34M1166.9,472.48L1167.37,473.23M1175.51,485.06L1175.98,485.68M1184.24,495.08L1185.01,495.81M1196.82,503.85L1197.46,504.1M1210.68,505.07L1210.89,505.02M1223.48,498.35L1223.9,498.01M1232.99,488.9L1233.6,488.18M1242.19,476.68L1242.9,475.63M1247.03,469.25L1247.86,467.92M1247.86,467.92L1247.86,467.92M1254.47,456.78L1255.17,455.56M1262.12,442.99L1262.73,441.87M1268.51,431.07L1268.91,430.33M1275.67,417.65L1275.95,417.12M1281.73,406.48L1282.53,405.03M1289.66,392.56L1289.99,391.99M1296.6,381.34L1297.24,380.36M1305.57,368.66L1305.69,368.52M1314.78,358.29L1315.13,357.96M1326.67,349.48L1327.17,349.23M1340.39,346.27L1340.5,346.28M1354.1,350.49L1354.43,350.67M1365.17,358.76L1365.54,359.11M1375.38,369.56L1375.91,370.19M1384.17,380.69L1384.28,380.84M1392.67,392.5L1393.26,393.35M1400.7,404.11L1400.84,404.32M1409.02,416.12L1409.78,417.2M1417.22,427.41L1417.47,427.74M1426.46,438.94L1427.13,439.71M1436.22,449.12L1436.41,449.29M1447.89,457.87L1448.61,458.27M1461.01,462.49L1461.38,462.54M1475.5,460.79L1475.88,460.66M1487.44,454.24L1488.01,453.82M1494.88,448.07L1494.88,448.07M1504.79,437.77L1504.83,437.72M1513.95,426.63L1514.71,425.66M1522.14,415.81L1522.61,415.17M1531.09,403.57L1531.23,403.37M1539.49,392.15L1539.6,392M1548.39,380.64L1548.58,380.41M1557.67,369.81L1557.74,369.73M1568.01,359.7L1568.4,359.37M1579.14,351.75L1579.72,351.43M1593.2,346.66L1594.02,346.55M1607.23,347.35L1607.45,347.4M1620.61,353.03L1621.28,353.43M1632.02,361.14L1632.29,361.37M1642.93,371.01L1643.58,371.64M1652.67,380.91L1653,381.25M1662.86,391.7L1663.41,392.28M1672.5,401.7L1672.84,402.04M1683.26,411.92L1684.07,412.63M1693.98,420.45L1694.52,420.82M1707.05,427.8L1707.2,427.87M1720.42,431.21L1720.93,431.25M1735.15,429.82L1735.29,429.79M1741.07,427.79L1741.9,427.44M1741.9,427.44L1741.9,427.44M1754.29,420.5L1754.4,420.42M1765.75,411.62L1765.85,411.53M1775.77,402.49L1776.35,401.93M1786.58,391.84L1787.33,391.08M1796.42,382L1796.74,381.68M1807.14,371.77L1807.16,371.75M1817.9,362.63L1818.09,362.49M1829.96,354.42L1830.29,354.22M1842.69,348.67L1843.04,348.56M1857.17,346.25L1857.56,346.25M1870.78,348.03L1871.35,348.19M1884.68,353.5L1884.82,353.58M1896.39,360.4L1897.02,360.83M1908.71,369.18L1908.78,369.24M1919.52,377.51L1920.09,377.95M1931.52,386.65L1931.91,386.94M1942.65,394.37L1943.34,394.81M1955.87,401.8L1956.7,402.19M1969.09,406.64L1969.35,406.71M1983.57,408.45L1983.96,408.45M1988.09,408.23L1988.92,408.15"/>
<path class="r" stroke="#0f0" stroke-width="4.8" d="M1080.15,346.25L1080.98,346.27L1081.8,346.32L1082.63,346.42L1083.45,346.55L1084.28,346.71L1085.11,346.92L1085.93,347.16L1086.76,347.43L1087.59,347.74L1088.41,348.09L1089.24,348.47L1090.06,348.89L1090.89,349.34L1091.72,349.83L1092.54,350.35L1093.37,350.91M1104.11,361.07L1104.93,362.06L1105.76,363.08L1106.59,364.13L1107.41,365.2L1108.24,366.3L1109.07,367.43L1109.89,368.58L1110.72,369.76L1111.54,370.96L1112.37,372.18M1120.63,385.58L1121.46,387.03L1122.28,388.49L1123.11,389.96L1123.94,391.45L1124.76,392.96L1125.59,394.47L1126.41,396.01M1133.85,410.25L1134.68,411.87L1135.5,413.5L1136.33,415.13L1137.15,416.76L1137.98,418.4L1138.81,420.04L1139.63,421.69M1147.07,436.44L1147.89,438.06L1148.72,439.68L1149.55,441.29L1150.37,442.89L1151.2,444.49L1152.03,446.08L1152.85,447.66M1160.29,461.34L1161.11,462.79L1161.94,464.23L1162.77,465.65L1163.59,467.05L1164.42,468.44L1165.24,469.81L1166.07,471.15L1166.9,472.48M1175.98,485.68L1176.81,486.74L1177.64,487.78L1178.46,488.78L1179.29,489.77L1180.11,490.72L1180.94,491.65L1181.77,492.55L1182.59,493.42L1183.42,494.27L1184.24,495.08M1197.46,504.1L1198.29,504.4L1199.12,504.67L1199.94,504.91L1200.77,505.11L1201.59,505.29L1202.42,505.43L1203.25,505.53L1204.07,505.61L1204.9,505.66L1205.72,505.67L1206.55,505.65L1207.38,505.6L1208.2,505.51L1209.03,505.4L1209.86,505.25L1210.68,505.07M1223.9,498.01L1224.73,497.32L1225.55,496.59L1226.38,495.85L1227.2,495.07L1228.03,494.27L1228.86,493.44L1229.68,492.58L1230.51,491.7L1231.34,490.79L1232.16,489.86L1232.99,488.9M1242.9,475.63L1243.73,474.39L1244.55,473.13L1245.38,471.86L1246.21,470.56L1247.03,469.25M1247.86,467.92L1248.68,466.58L1249.51,465.22L1250.34,463.85L1251.16,462.46L1251.99,461.06L1252.82,459.65L1253.64,458.22L1254.47,456.78M1262.73,441.87L1263.56,440.34L1264.38,438.8L1265.21,437.26L1266.03,435.72L1266.86,434.17L1267.69,432.62L1268.51,431.07M1275.95,417.12L1276.77,415.59L1277.6,414.05L1278.43,412.52L1279.25,411L1280.08,409.49L1280.9,407.98L1281.73,406.48M1289.99,391.99L1290.82,390.61L1291.64,389.24L1292.47,387.88L1293.3,386.54L1294.12,385.22L1294.95,383.91L1295.78,382.61L1296.6,381.34M1305.69,368.52L1306.52,367.47L1307.34,366.45L1308.17,365.45L1308.99,364.47L1309.82,363.52L1310.65,362.59L1311.47,361.68L1312.3,360.8L1313.12,359.94L1313.95,359.1L1314.78,358.29M1327.17,349.23L1328,348.83L1328.82,348.47L1329.65,348.14L1330.47,347.83L1331.3,347.55L1332.13,347.29L1332.95,347.07L1333.78,346.87L1334.6,346.7L1335.43,346.55L1336.26,346.44L1337.08,346.35L1337.91,346.29L1338.74,346.26L1339.56,346.25L1340.39,346.27M1354.43,350.67L1355.26,351.16L1356.08,351.67L1356.91,352.2L1357.74,352.76L1358.56,353.34L1359.39,353.94L1360.22,354.56L1361.04,355.21L1361.87,355.88L1362.69,356.57L1363.52,357.28L1364.35,358.01L1365.17,358.76M1375.91,370.19L1376.74,371.18L1377.56,372.19L1378.39,373.21L1379.22,374.24L1380.04,375.29L1380.87,376.35L1381.69,377.42L1382.52,378.5L1383.35,379.59L1384.17,380.69M1393.26,393.35L1394.09,394.53L1394.91,395.72L1395.74,396.92L1396.57,398.11L1397.39,399.31L1398.22,400.51L1399.04,401.71L1399.87,402.91L1400.7,404.11M1409.78,417.2L1410.61,418.36L1411.44,419.52L1412.26,420.67L1413.09,421.82L1413.91,422.95L1414.74,424.08L1415.57,425.2L1416.39,426.31L1417.22,427.41M1427.13,439.71L1427.96,440.65L1428.79,441.57L1429.61,442.48L1430.44,443.37L1431.26,444.24L1432.09,445.1L1432.92,445.94L1433.74,446.76L1434.57,447.57L1435.39,448.36L1436.22,449.12M1448.61,458.27L1449.44,458.71L1450.27,459.13L1451.09,459.53L1451.92,459.9L1452.74,460.25L1453.57,460.58L1454.4,460.88L1455.22,461.17L1456.05,461.43L1456.87,461.66L1457.7,461.87L1458.53,462.06L1459.35,462.23L1460.18,462.37L1461.01,462.49M1475.88,460.66L1476.7,460.34L1477.53,460L1478.35,459.63L1479.18,459.25L1480.01,458.84L1480.83,458.41L1481.66,457.97L1482.49,457.49L1483.31,457L1484.14,456.49L1484.96,455.96L1485.79,455.41L1486.62,454.83L1487.44,454.24M1494.88,448.07L1495.7,447.3L1496.53,446.51L1497.36,445.7L1498.18,444.88L1499.01,444.04L1499.83,443.19L1500.66,442.32L1501.49,441.44L1502.31,440.54L1503.14,439.63L1503.97,438.71L1504.79,437.77M1514.71,425.66L1515.53,424.59L1516.36,423.51L1517.18,422.43L1518.01,421.34L1518.84,420.25L1519.66,419.14L1520.49,418.04L1521.31,416.93L1522.14,415.81M1531.23,403.37L1532.05,402.24L1532.88,401.11L1533.71,399.98L1534.53,398.85L1535.36,397.72L1536.19,396.6L1537.01,395.48L1537.84,394.37L1538.66,393.25L1539.49,392.15M1548.58,380.41L1549.4,379.39L1550.23,378.38L1551.06,377.38L1551.88,376.4L1552.71,375.42L1553.53,374.45L1554.36,373.5L1555.19,372.56L1556.01,371.63L1556.84,370.71L1557.67,369.81M1568.4,359.37L1569.23,358.68L1570.06,358L1570.88,357.34L1571.71,356.7L1572.54,356.08L1573.36,355.47L1574.19,354.89L1575.01,354.32L1575.84,353.77L1576.67,353.23L1577.49,352.72L1578.32,352.23L1579.14,351.75M1594.02,346.55L1594.84,346.45L1595.67,346.37L1596.49,346.31L1597.32,346.27L1598.15,346.25L1598.97,346.25L1599.8,346.27L1600.62,346.32L1601.45,346.38L1602.28,346.46L1603.1,346.56L1603.93,346.68L1604.76,346.81L1605.58,346.97L1606.41,347.15L1607.23,347.35M1621.28,353.43L1622.1,353.93L1622.93,354.46L1623.76,355L1624.58,355.55L1625.41,356.12L1626.24,356.7L1627.06,357.29L1627.89,357.9L1628.71,358.52L1629.54,359.16L1630.37,359.81L1631.19,360.47L1632.02,361.14M1643.58,371.64L1644.41,372.46L1645.24,373.28L1646.06,374.11L1646.89,374.94L1647.72,375.78L1648.54,376.62L1649.37,377.47L1650.19,378.33L1651.02,379.18L1651.85,380.04L1652.67,380.91M1663.41,392.28L1664.24,393.16L1665.06,394.03L1665.89,394.89L1666.72,395.76L1667.54,396.62L1668.37,397.48L1669.2,398.33L1670.02,399.18L1670.85,400.03L1671.67,400.87L1672.5,401.7M1684.07,412.63L1684.89,413.34L1685.72,414.05L1686.54,414.74L1687.37,415.42L1688.2,416.09L1689.02,416.75L1689.85,417.4L1690.68,418.03L1691.5,418.66L1692.33,419.27L1693.15,419.86L1693.98,420.45M1707.2,427.87L1708.02,428.2L1708.85,428.52L1709.68,428.82L1710.5,429.1L1711.33,429.37L1712.16,429.62L1712.98,429.86L1713.81,430.08L1714.63,430.28L1715.46,430.46L1716.29,430.63L1717.11,430.78L1717.94,430.91L1718.76,431.03L1719.59,431.13L1720.42,431.21M1735.29,429.79L1736.11,429.55L1736.94,429.3L1737.77,429.03L1738.59,428.74L1739.42,428.44L1740.24,428.12L1741.07,427.79M1741.9,427.44L1742.72,427.08L1743.55,426.7L1744.38,426.3L1745.2,425.9L1746.03,425.47L1746.85,425.04L1747.68,424.59L1748.51,424.12L1749.33,423.64L1750.16,423.15L1750.98,422.65L1751.81,422.13L1752.64,421.6L1753.46,421.05L1754.29,420.5M1765.85,411.53L1766.68,410.82L1767.51,410.1L1768.33,409.37L1769.16,408.63L1769.99,407.88L1770.81,407.13L1771.64,406.37L1772.46,405.61L1773.29,404.84L1774.12,404.06L1774.94,403.28L1775.77,402.49M1787.33,391.08L1788.16,390.25L1788.99,389.42L1789.81,388.59L1790.64,387.76L1791.47,386.93L1792.29,386.1L1793.12,385.28L1793.94,384.45L1794.77,383.63L1795.6,382.81L1796.42,382M1807.16,371.75L1807.99,371L1808.81,370.26L1809.64,369.52L1810.47,368.8L1811.29,368.08L1812.12,367.37L1812.95,366.66L1813.77,365.97L1814.6,365.28L1815.42,364.61L1816.25,363.94L1817.08,363.28L1817.9,362.63M1830.29,354.22L1831.12,353.76L1831.95,353.31L1832.77,352.87L1833.6,352.44L1834.43,352.03L1835.25,351.63L1836.08,351.25L1836.9,350.87L1837.73,350.52L1838.56,350.17L1839.38,349.84L1840.21,349.53L1841.03,349.23L1841.86,348.94L1842.69,348.67M1857.56,346.25L1858.38,346.26L1859.21,346.27L1860.04,346.31L1860.86,346.36L1861.69,346.42L1862.51,346.5L1863.34,346.59L1864.17,346.69L1864.99,346.81L1865.82,346.95L1866.65,347.09L1867.47,347.25L1868.3,347.43L1869.12,347.62L1869.95,347.82L1870.78,348.03M1884.82,353.58L1885.65,354.01L1886.47,354.44L1887.3,354.89L1888.13,355.35L1888.95,355.82L1889.78,356.29L1890.6,356.78L1891.43,357.27L1892.26,357.77L1893.08,358.28L1893.91,358.8L1894.73,359.33L1895.56,359.86L1896.39,360.4M1908.78,369.24L1909.61,369.86L1910.43,370.49L1911.26,371.12L1912.08,371.75L1912.91,372.39L1913.74,373.02L1914.56,373.66L1915.39,374.3L1916.21,374.94L1917.04,375.58L1917.87,376.22L1918.69,376.87L1919.52,377.51M1931.91,386.94L1932.74,387.54L1933.56,388.14L1934.39,388.74L1935.22,389.33L1936.04,389.91L1936.87,390.49L1937.69,391.07L1938.52,391.63L1939.35,392.2L1940.17,392.75L1941,393.3L1941.83,393.84L1942.65,394.37M1956.7,402.19L1957.52,402.56L1958.35,402.92L1959.17,403.28L1960,403.62L1960.83,403.95L1961.65,404.27L1962.48,404.58L1963.3,404.88L1964.13,405.17L1964.96,405.44L1965.78,405.71L1966.61,405.96L1967.44,406.2L1968.26,406.43L1969.09,406.64M1983.96,408.45L1984.78,408.43L1985.61,408.4L1986.44,408.35L1987.26,408.3L1988.09,408.23"/>
</g>
<text class="lab" transform="translate(1112.55,26.95) scale(0.945,1)">(b)</text>
<g><text class="xl" transform="translate(1513.35,594.35) scale(1.216,1)">t</text><text class="sl" transform="translate(1523.85,594.30) skewX(-10.1)">/</text><text class="pi" transform="translate(1535.25,595.90) scale(1.18,1)">π</text></g>
</g>
</svg>
</body>
</html>
